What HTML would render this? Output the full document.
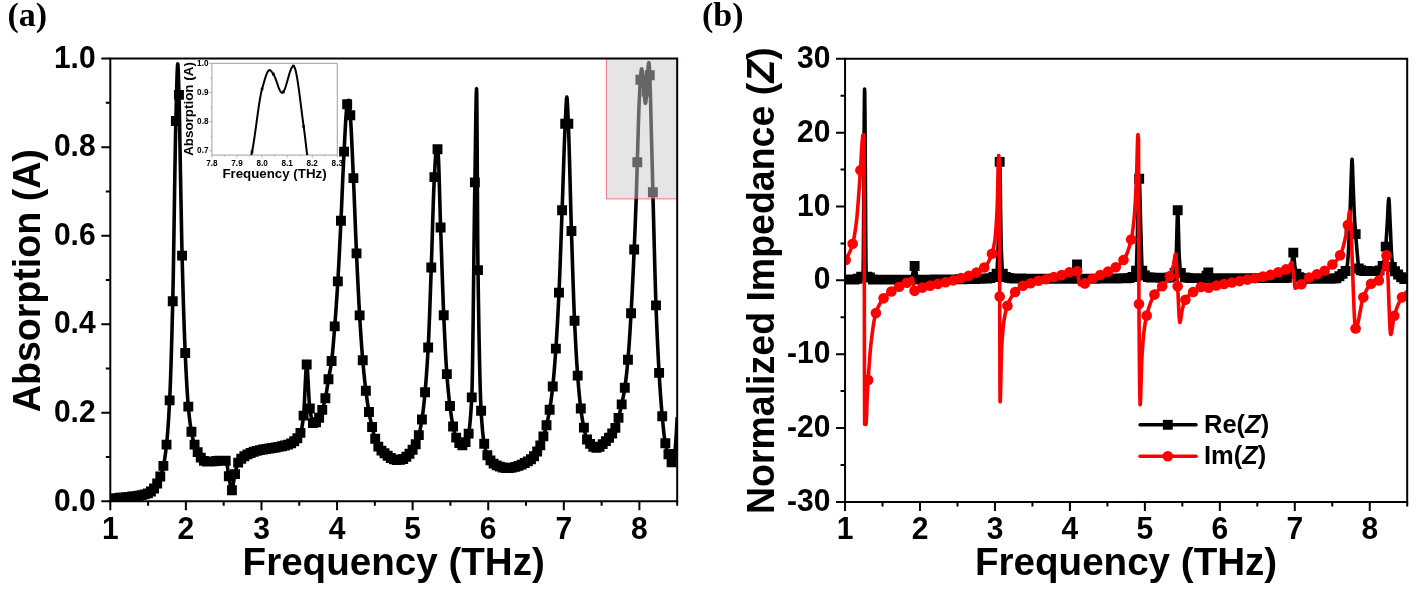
<!DOCTYPE html>
<html lang="en">
<head>
<meta charset="utf-8">
<title>Absorption and normalized impedance</title>
<style>html,body{margin:0;padding:0;background:#fff}body{width:1416px;height:591px;overflow:hidden}svg{display:block}</style>
</head>
<body>
<svg width="1416" height="591" viewBox="0 0 1416 591">
<rect width="1416" height="591" fill="#fff"/>
<defs><clipPath id="clipA"><rect x="110.3" y="58.6" width="566.9" height="442.7"/></clipPath><clipPath id="clipB"><rect x="845.05" y="58.8" width="562.2" height="443.1"/></clipPath></defs>
<g id="panel-a">
<g clip-path="url(#clipA)">
<path d="M110.30 498.64L110.54 498.62L110.77 498.60L111.01 498.58L111.25 498.56L111.48 498.54L111.72 498.52L111.95 498.50L112.19 498.48L112.43 498.46L112.66 498.44L112.90 498.42L113.14 498.39L113.37 498.37L113.61 498.35L113.84 498.33L114.08 498.31L114.32 498.29L114.55 498.27L114.79 498.25L115.03 498.23L115.26 498.21L115.50 498.19L115.73 498.17L115.97 498.15L116.21 498.12L116.44 498.10L116.68 498.08L116.92 498.06L117.15 498.04L117.39 498.02L117.63 498.00L117.86 497.98L117.86 497.98L118.10 497.96L118.33 497.94L118.57 497.92L118.81 497.90L119.04 497.88L119.28 497.86L119.52 497.84L119.75 497.82L119.99 497.80L120.22 497.78L120.46 497.76L120.70 497.74L120.93 497.72L121.17 497.70L121.41 497.68L121.64 497.66L121.88 497.64L122.12 497.62L122.35 497.60L122.59 497.58L122.82 497.56L123.06 497.54L123.30 497.52L123.53 497.49L123.77 497.47L124.01 497.45L124.24 497.43L124.48 497.41L124.71 497.38L124.95 497.36L125.19 497.34L125.42 497.32L125.42 497.32L125.66 497.29L125.90 497.27L126.13 497.24L126.37 497.22L126.60 497.19L126.84 497.17L127.08 497.14L127.31 497.12L127.55 497.09L127.79 497.06L128.02 497.04L128.26 497.01L128.50 496.98L128.73 496.96L128.97 496.93L129.20 496.90L129.44 496.87L129.68 496.84L129.91 496.82L130.15 496.79L130.39 496.76L130.62 496.73L130.86 496.70L131.09 496.67L131.33 496.64L131.57 496.61L131.80 496.58L132.04 496.55L132.28 496.52L132.51 496.49L132.75 496.46L132.98 496.43L132.99 496.43L133.22 496.40L133.46 496.37L133.69 496.34L133.93 496.31L134.17 496.28L134.40 496.25L134.64 496.22L134.88 496.19L135.11 496.15L135.35 496.12L135.58 496.09L135.82 496.06L136.06 496.03L136.29 496.00L136.53 495.97L136.77 495.93L137.00 495.90L137.24 495.87L137.47 495.83L137.71 495.80L137.95 495.76L138.18 495.73L138.42 495.69L138.66 495.65L138.89 495.61L139.13 495.57L139.37 495.53L139.60 495.49L139.84 495.45L140.07 495.41L140.31 495.37L140.53 495.32L140.55 495.32L140.78 495.28L141.02 495.23L141.26 495.18L141.49 495.13L141.73 495.08L141.96 495.03L142.20 494.98L142.44 494.93L142.67 494.88L142.91 494.82L143.15 494.77L143.38 494.71L143.62 494.65L143.86 494.59L144.09 494.53L144.33 494.47L144.56 494.40L144.80 494.34L145.04 494.27L145.27 494.20L145.51 494.13L145.75 494.06L145.98 493.98L146.22 493.91L146.45 493.83L146.69 493.75L146.93 493.66L147.16 493.58L147.40 493.49L147.64 493.41L147.83 493.33L147.87 493.31L148.11 493.22L148.34 493.11L148.58 493.00L148.82 492.89L149.05 492.76L149.29 492.63L149.53 492.49L149.76 492.35L150.00 492.20L150.24 492.05L150.47 491.89L150.71 491.73L150.94 491.56L150.94 491.56L151.18 491.38L151.42 491.20L151.65 491.00L151.89 490.79L152.13 490.57L152.36 490.34L152.60 490.11L152.83 489.86L153.07 489.61L153.31 489.35L153.54 489.08L153.78 488.80L154.02 488.52L154.06 488.46L154.25 488.23L154.49 487.92L154.73 487.60L154.96 487.26L155.20 486.92L155.43 486.56L155.67 486.18L155.91 485.80L156.14 485.41L156.38 485.00L156.62 484.59L156.85 484.16L157.09 483.73L157.16 483.59L157.32 483.29L157.56 482.83L157.80 482.37L158.03 481.88L158.27 481.39L158.51 480.87L158.74 480.35L158.98 479.80L159.21 479.25L159.45 478.67L159.69 478.08L159.92 477.47L160.16 476.85L160.28 476.51L160.40 476.20L160.63 475.55L160.87 474.88L161.11 474.20L161.34 473.50L161.58 472.77L161.81 472.01L162.05 471.22L162.29 470.39L162.52 469.53L162.76 468.62L163.00 467.67L163.23 466.66L163.41 465.88L163.47 465.60L163.70 464.47L163.94 463.26L164.18 461.96L164.41 460.59L164.65 459.14L164.89 457.60L165.12 455.98L165.36 454.28L165.60 452.49L165.83 450.61L166.07 448.65L166.30 446.59L166.52 444.63L166.54 444.45L166.78 442.18L167.01 439.74L167.25 437.12L167.49 434.34L167.72 431.37L167.96 428.22L168.19 424.89L168.43 421.37L168.67 417.66L168.90 413.75L169.14 409.64L169.38 405.33L169.61 400.81L169.63 400.36L169.85 395.94L170.08 390.56L170.32 384.68L170.56 378.33L170.79 371.53L171.03 364.30L171.27 356.67L171.50 348.67L171.74 340.31L171.98 331.63L172.21 322.64L172.45 313.37L172.68 303.85L172.75 301.20L172.92 293.67L173.16 281.85L173.39 268.64L173.63 254.33L173.87 239.22L174.10 223.61L174.34 207.79L174.57 192.07L174.81 176.74L175.05 162.10L175.28 148.45L175.52 136.08L175.76 125.30L175.86 121.02L175.99 115.99L176.23 106.50L176.47 96.98L176.70 87.88L176.94 79.64L177.17 72.70L177.41 67.50L177.65 64.49L177.80 63.91L177.88 64.18L178.12 67.36L178.36 73.36L178.59 81.12L178.83 89.62L178.98 94.90L179.06 98.08L179.30 108.21L179.54 120.11L179.77 133.22L180.01 146.95L180.25 160.72L180.48 173.96L180.59 179.90L180.72 186.36L180.95 199.03L181.19 211.82L181.43 224.40L181.66 236.42L181.90 247.52L182.09 255.60L182.14 257.39L182.37 266.58L182.61 275.49L182.85 284.11L183.08 292.42L183.32 300.44L183.55 308.15L183.79 315.54L184.03 322.62L184.26 329.37L184.50 335.80L184.74 341.89L184.97 347.65L185.21 353.00L185.21 353.06L185.44 358.23L185.68 363.26L185.92 368.13L186.15 372.84L186.39 377.37L186.63 381.71L186.86 385.86L187.10 389.81L187.34 393.54L187.57 397.04L187.81 400.32L188.04 403.35L188.28 406.13L188.32 406.56L188.52 408.69L188.75 411.15L188.99 413.49L189.23 415.72L189.46 417.85L189.70 419.88L189.93 421.80L190.17 423.63L190.41 425.35L190.64 426.99L190.88 428.53L191.12 429.98L191.35 431.35L191.43 431.80L191.59 432.63L191.82 433.86L192.06 435.03L192.30 436.16L192.53 437.23L192.77 438.26L193.01 439.24L193.24 440.18L193.48 441.07L193.72 441.93L193.95 442.74L194.19 443.52L194.42 444.26L194.55 444.63L194.66 444.97L194.90 445.65L195.13 446.31L195.37 446.94L195.61 447.55L195.84 448.14L196.08 448.71L196.31 449.27L196.55 449.80L196.79 450.32L197.02 450.83L197.26 451.33L197.50 451.81L197.73 452.28L197.97 452.75L198.21 453.21L198.44 453.66L198.58 453.93L198.68 454.11L198.91 454.56L199.15 455.00L199.39 455.44L199.62 455.86L199.86 456.28L200.10 456.67L200.33 457.03L200.57 457.37L200.80 457.68L201.00 457.92L201.04 457.96L201.28 458.22L201.51 458.48L201.75 458.74L201.99 459.01L202.22 459.26L202.46 459.52L202.69 459.76L202.93 460.00L203.17 460.23L203.40 460.45L203.64 460.65L203.88 460.84L204.11 461.02L204.35 461.18L204.59 461.32L204.82 461.43L205.06 461.53L205.29 461.61L205.53 461.65L205.77 461.68L205.84 461.68L206.00 461.68L206.24 461.68L206.48 461.68L206.71 461.67L206.95 461.67L207.18 461.66L207.42 461.66L207.66 461.65L207.89 461.65L208.13 461.64L208.37 461.63L208.60 461.63L208.84 461.62L209.07 461.61L209.31 461.60L209.55 461.59L209.78 461.58L210.02 461.57L210.26 461.56L210.49 461.55L210.73 461.54L210.97 461.53L211.20 461.51L211.44 461.50L211.67 461.49L211.91 461.48L212.15 461.47L212.34 461.46L212.38 461.45L212.62 461.44L212.86 461.42L213.09 461.41L213.33 461.38L213.56 461.36L213.80 461.34L214.04 461.31L214.27 461.28L214.51 461.25L214.75 461.22L214.98 461.19L215.22 461.16L215.46 461.12L215.69 461.09L215.93 461.06L216.16 461.03L216.40 461.00L216.64 460.96L216.87 460.93L217.11 460.90L217.35 460.88L217.58 460.85L217.82 460.82L218.05 460.80L218.29 460.78L218.53 460.76L218.76 460.74L219.00 460.73L219.24 460.72L219.47 460.71L219.71 460.71L219.90 460.70L219.94 460.70L220.18 460.70L220.42 460.70L220.65 460.70L220.89 460.70L221.13 460.70L221.36 460.70L221.60 460.70L221.84 460.70L222.07 460.70L222.31 460.70L222.54 460.70L222.78 460.70L223.02 460.70L223.25 460.70L223.49 460.70L223.73 460.70L223.96 460.70L224.20 460.70L224.43 460.70L224.67 460.70L224.91 460.70L225.14 460.70L225.38 460.70L225.62 460.70L225.85 460.70L225.95 460.70L226.09 460.78L226.33 461.19L226.56 461.93L226.80 462.95L227.03 464.21L227.27 465.65L227.51 467.22L227.74 468.89L227.98 470.60L228.22 472.30L228.45 473.96L228.69 475.51L228.92 476.92L229.05 477.57L229.16 478.19L229.40 479.56L229.63 481.03L229.87 482.56L230.11 484.10L230.34 485.58L230.58 486.96L230.81 488.18L231.05 489.20L231.29 489.96L231.52 490.40L231.69 490.50L231.76 490.48L232.00 490.16L232.23 489.50L232.47 488.54L232.71 487.36L232.94 486.00L233.18 484.52L233.41 482.99L233.65 481.46L233.89 479.99L234.12 478.64L234.34 477.57L234.36 477.46L234.60 476.34L234.83 475.19L235.07 474.00L235.30 472.81L235.54 471.62L235.78 470.46L236.01 469.33L236.25 468.25L236.49 467.23L236.72 466.30L236.96 465.46L237.20 464.73L237.43 464.12L237.44 464.11L237.67 463.60L237.90 463.12L238.14 462.67L238.38 462.25L238.61 461.86L238.85 461.50L239.09 461.15L239.32 460.83L239.56 460.53L239.79 460.25L240.03 459.98L240.27 459.73L240.31 459.69L240.50 459.48L240.74 459.24L240.98 459.01L241.21 458.79L241.45 458.57L241.68 458.35L241.92 458.14L242.16 457.94L242.39 457.74L242.63 457.55L242.87 457.36L243.10 457.17L243.34 456.99L243.58 456.82L243.81 456.65L244.05 456.48L244.28 456.32L244.52 456.16L244.76 456.01L244.99 455.85L245.23 455.70L245.47 455.56L245.70 455.42L245.94 455.28L246.17 455.14L246.41 455.00L246.65 454.87L246.88 454.74L247.12 454.61L247.36 454.48L247.56 454.37L247.59 454.36L247.83 454.23L248.07 454.11L248.30 453.99L248.54 453.88L248.77 453.76L249.01 453.65L249.25 453.54L249.48 453.43L249.72 453.32L249.96 453.21L250.19 453.11L250.43 453.01L250.66 452.91L250.90 452.81L251.14 452.71L251.37 452.62L251.61 452.53L251.85 452.43L252.08 452.35L252.32 452.26L252.55 452.17L252.79 452.09L253.03 452.01L253.26 451.93L253.50 451.85L253.74 451.77L253.91 451.72L253.97 451.70L254.21 451.63L254.45 451.55L254.68 451.48L254.92 451.41L255.15 451.34L255.39 451.27L255.63 451.21L255.86 451.14L256.10 451.08L256.34 451.01L256.57 450.95L256.81 450.89L257.04 450.83L257.28 450.77L257.52 450.71L257.75 450.65L257.99 450.59L258.23 450.54L258.46 450.48L258.70 450.42L258.94 450.37L259.17 450.31L259.41 450.26L259.64 450.21L259.88 450.16L260.12 450.10L260.35 450.05L260.59 450.00L260.83 449.95L261.06 449.90L261.30 449.85L261.53 449.81L261.77 449.76L261.92 449.73L262.01 449.71L262.24 449.66L262.48 449.61L262.72 449.57L262.95 449.52L263.19 449.48L263.42 449.44L263.66 449.39L263.90 449.35L264.13 449.31L264.37 449.27L264.61 449.23L264.84 449.19L265.08 449.15L265.32 449.11L265.55 449.07L265.79 449.03L266.02 448.99L266.26 448.96L266.50 448.92L266.73 448.88L266.97 448.84L267.21 448.81L267.44 448.77L267.68 448.74L267.91 448.70L268.15 448.66L268.39 448.63L268.62 448.59L268.86 448.56L269.10 448.52L269.33 448.49L269.57 448.45L269.81 448.42L270.04 448.38L270.28 448.35L270.51 448.31L270.75 448.28L270.99 448.24L271.22 448.21L271.46 448.17L271.70 448.13L271.93 448.10L272.17 448.06L272.40 448.02L272.64 447.99L272.88 447.95L273.11 447.91L273.35 447.87L273.59 447.83L273.82 447.79L274.06 447.75L274.29 447.71L274.53 447.67L274.77 447.63L275.00 447.59L275.24 447.55L275.48 447.50L275.71 447.46L275.95 447.41L276.19 447.37L276.42 447.32L276.59 447.29L276.66 447.28L276.89 447.23L277.13 447.18L277.37 447.14L277.60 447.09L277.84 447.05L278.08 447.00L278.31 446.96L278.55 446.91L278.78 446.87L279.02 446.82L279.26 446.78L279.49 446.73L279.73 446.69L279.97 446.64L280.20 446.59L280.44 446.55L280.68 446.50L280.91 446.45L281.15 446.41L281.38 446.36L281.62 446.31L281.86 446.26L282.09 446.21L282.33 446.16L282.57 446.11L282.80 446.06L283.04 446.01L283.27 445.96L283.51 445.90L283.75 445.85L283.98 445.79L284.22 445.73L284.46 445.68L284.69 445.62L284.93 445.56L285.16 445.50L285.40 445.43L285.64 445.37L285.87 445.31L286.11 445.24L286.35 445.17L286.58 445.10L286.82 445.03L287.06 444.96L287.29 444.88L287.53 444.81L287.76 444.73L288.00 444.65L288.24 444.57L288.47 444.49L288.71 444.41L288.95 444.32L289.18 444.23L289.29 444.19L289.42 444.14L289.65 444.05L289.89 443.95L290.13 443.84L290.36 443.73L290.60 443.62L290.84 443.50L291.07 443.37L291.31 443.24L291.55 443.11L291.78 442.97L292.02 442.83L292.25 442.68L292.49 442.52L292.73 442.36L292.96 442.20L293.20 442.03L293.44 441.85L293.67 441.67L293.91 441.49L294.14 441.30L294.38 441.11L294.62 440.91L294.85 440.70L295.09 440.49L295.33 440.27L295.56 440.05L295.80 439.83L296.03 439.60L296.27 439.36L296.51 439.12L296.74 438.87L296.98 438.62L297.15 438.44L297.22 438.36L297.45 438.09L297.69 437.81L297.93 437.52L298.16 437.20L298.40 436.87L298.63 436.51L298.87 436.14L299.11 435.73L299.34 435.30L299.58 434.85L299.82 434.36L300.05 433.83L300.29 433.28L300.52 432.68L300.76 432.05L300.85 431.80L301.00 431.36L301.23 430.53L301.47 429.56L301.71 428.46L301.94 427.23L302.18 425.88L302.42 424.40L302.65 422.82L302.89 421.13L303.12 419.33L303.36 417.44L303.50 416.30L303.60 415.37L303.83 412.48L304.07 408.78L304.31 404.44L304.54 399.63L304.78 394.54L305.01 389.34L305.25 384.20L305.49 379.31L305.72 374.83L305.96 370.94L306.20 367.82L306.43 365.64L306.67 364.58L306.75 364.51L306.90 364.80L307.14 366.26L307.38 368.75L307.61 372.10L307.85 376.10L308.09 380.55L308.32 385.27L308.56 390.05L308.80 394.71L309.03 399.04L309.27 402.85L309.50 405.94L309.74 408.13L309.77 408.33L309.98 409.65L310.21 411.13L310.45 412.57L310.69 413.96L310.92 415.30L311.16 416.57L311.39 417.77L311.63 418.88L311.87 419.91L312.10 420.83L312.34 421.65L312.58 422.35L312.81 422.92L313.05 423.36L313.28 423.66L313.52 423.81L313.63 423.83L313.76 423.82L313.99 423.78L314.23 423.71L314.47 423.60L314.70 423.47L314.94 423.30L315.18 423.11L315.41 422.90L315.65 422.66L315.88 422.41L316.12 422.14L316.36 421.85L316.59 421.55L316.83 421.24L317.07 420.92L317.30 420.60L317.54 420.27L317.77 419.94L318.01 419.61L318.16 419.40L318.25 419.28L318.48 418.92L318.72 418.53L318.96 418.11L319.19 417.66L319.43 417.18L319.67 416.67L319.90 416.14L320.14 415.58L320.37 415.01L320.61 414.41L320.85 413.80L321.08 413.17L321.32 412.52L321.56 411.86L321.79 411.19L322.03 410.51L322.26 409.82L322.47 409.22L322.50 409.12L322.74 408.41L322.97 407.66L323.21 406.88L323.45 406.08L323.68 405.24L323.92 404.37L324.15 403.46L324.39 402.53L324.63 401.56L324.86 400.55L325.10 399.51L325.34 398.44L325.49 397.71L325.57 397.32L325.81 396.11L326.05 394.80L326.28 393.41L326.52 391.95L326.75 390.44L326.99 388.89L327.23 387.33L327.46 385.75L327.70 384.19L327.94 382.66L328.17 381.16L328.29 380.44L328.41 379.73L328.64 378.35L328.88 377.02L329.12 375.73L329.35 374.46L329.59 373.20L329.83 371.94L330.06 370.66L330.30 369.35L330.54 368.00L330.77 366.59L331.01 365.12L331.24 363.57L331.48 361.92L331.72 360.17L331.84 359.19L331.95 358.29L332.19 356.21L332.43 353.95L332.66 351.51L332.90 348.94L333.13 346.23L333.37 343.42L333.61 340.52L333.84 337.56L334.08 334.56L334.32 331.53L334.55 328.50L334.71 326.43L334.79 325.48L335.02 322.43L335.26 319.33L335.50 316.18L335.73 312.96L335.97 309.69L336.21 306.34L336.44 302.94L336.68 299.45L336.92 295.90L337.15 292.27L337.39 288.55L337.62 284.75L337.84 281.28L337.86 280.86L338.10 276.85L338.33 272.68L338.57 268.39L338.81 263.97L339.04 259.45L339.28 254.83L339.51 250.13L339.75 245.36L339.99 240.54L340.22 235.68L340.46 230.80L340.70 225.89L340.93 220.99L340.95 220.63L341.17 215.98L341.41 210.77L341.64 205.40L341.88 199.91L342.11 194.34L342.35 188.75L342.59 183.17L342.82 177.66L343.06 172.26L343.30 167.01L343.53 161.96L343.77 157.16L344.00 152.65L344.06 151.57L344.24 148.32L344.48 143.87L344.71 139.33L344.95 134.78L345.19 130.29L345.42 125.93L345.66 121.76L345.89 117.86L346.13 114.28L346.37 111.11L346.60 108.40L346.84 106.23L347.08 104.67L347.18 104.20L347.31 103.67L347.55 102.78L347.79 101.98L348.02 101.29L348.26 100.74L348.49 100.38L348.73 100.22L348.77 100.21L348.97 100.61L349.20 102.03L349.44 104.26L349.68 107.06L349.91 110.18L350.15 113.38L350.29 115.27L350.38 116.48L350.62 119.90L350.86 123.72L351.09 127.90L351.33 132.38L351.57 137.14L351.80 142.11L352.04 147.25L352.28 152.53L352.51 157.88L352.75 163.28L352.98 168.67L353.22 174.00L353.41 178.13L353.46 179.24L353.69 184.60L353.93 190.15L354.17 195.86L354.40 201.69L354.64 207.61L354.87 213.57L355.11 219.55L355.35 225.50L355.58 231.38L355.82 237.17L356.06 242.82L356.29 248.30L356.52 253.39L356.53 253.57L356.76 258.71L357.00 263.82L357.24 268.88L357.47 273.89L357.71 278.84L357.95 283.71L358.18 288.49L358.42 293.17L358.66 297.75L358.89 302.22L359.13 306.55L359.36 310.75L359.60 314.80L359.63 315.37L359.84 318.72L360.07 322.57L360.31 326.35L360.55 330.06L360.78 333.68L361.02 337.21L361.25 340.66L361.49 344.02L361.73 347.28L361.96 350.45L362.20 353.51L362.44 356.47L362.67 359.32L362.76 360.30L362.91 362.06L363.15 364.73L363.38 367.33L363.62 369.86L363.85 372.33L364.09 374.72L364.33 377.05L364.56 379.32L364.80 381.52L365.04 383.66L365.27 385.74L365.51 387.76L365.74 389.72L365.86 390.62L365.98 391.63L366.22 393.49L366.45 395.31L366.69 397.08L366.93 398.81L367.16 400.49L367.40 402.14L367.63 403.74L367.87 405.29L368.11 406.80L368.34 408.27L368.58 409.70L368.82 411.09L368.95 411.87L369.05 412.43L369.29 413.73L369.53 414.99L369.76 416.22L370.00 417.41L370.23 418.57L370.47 419.71L370.71 420.82L370.94 421.91L371.18 422.98L371.42 424.03L371.65 425.07L371.89 426.10L371.98 426.48L372.12 427.12L372.36 428.14L372.60 429.16L372.83 430.16L373.07 431.16L373.31 432.13L373.54 433.09L373.78 434.01L374.02 434.90L374.25 435.76L374.49 436.57L374.72 437.34L374.85 437.73L374.96 438.06L375.20 438.77L375.43 439.47L375.67 440.15L375.91 440.83L376.14 441.49L376.38 442.13L376.61 442.76L376.85 443.37L377.09 443.96L377.32 444.52L377.56 445.06L377.80 445.57L378.03 446.06L378.27 446.52L378.50 446.94L378.74 447.33L378.98 447.69L379.01 447.73L379.21 448.02L379.45 448.34L379.69 448.65L379.92 448.94L380.16 449.23L380.40 449.50L380.63 449.77L380.87 450.02L381.10 450.27L381.34 450.51L381.58 450.74L381.81 450.97L382.05 451.19L382.29 451.40L382.52 451.61L382.76 451.81L382.99 452.01L383.23 452.21L383.47 452.40L383.70 452.59L383.94 452.78L384.18 452.96L384.41 453.15L384.65 453.33L384.89 453.52L385.12 453.70L385.36 453.89L385.59 454.08L385.83 454.27L385.96 454.37L386.07 454.46L386.30 454.66L386.54 454.85L386.78 455.05L387.01 455.25L387.25 455.45L387.48 455.64L387.72 455.84L387.96 456.03L388.19 456.22L388.43 456.41L388.67 456.60L388.90 456.78L389.14 456.96L389.37 457.13L389.61 457.30L389.85 457.46L390.08 457.61L390.32 457.76L390.56 457.90L390.79 458.03L391.03 458.15L391.27 458.26L391.48 458.36L391.50 458.37L391.74 458.47L391.97 458.57L392.21 458.67L392.45 458.77L392.68 458.86L392.92 458.96L393.16 459.06L393.39 459.15L393.63 459.24L393.86 459.33L394.10 459.42L394.34 459.50L394.57 459.58L394.81 459.66L395.05 459.73L395.28 459.80L395.52 459.86L395.76 459.92L395.99 459.97L396.23 460.01L396.46 460.05L396.70 460.08L396.94 460.10L397.17 460.12L397.41 460.13L397.53 460.13L397.65 460.13L397.88 460.12L398.12 460.11L398.35 460.10L398.59 460.08L398.83 460.05L399.06 460.02L399.30 459.99L399.54 459.95L399.77 459.91L400.01 459.86L400.24 459.82L400.48 459.77L400.72 459.71L400.95 459.66L401.19 459.60L401.43 459.54L401.66 459.48L401.90 459.41L402.14 459.35L402.37 459.28L402.51 459.24L402.61 459.22L402.84 459.14L403.08 459.05L403.32 458.95L403.55 458.83L403.79 458.71L404.03 458.57L404.26 458.43L404.50 458.28L404.73 458.11L404.97 457.94L405.21 457.76L405.44 457.58L405.68 457.39L405.92 457.19L406.15 456.98L406.39 456.77L406.62 456.56L406.86 456.34L407.10 456.11L407.33 455.89L407.57 455.66L407.81 455.43L408.04 455.19L408.28 454.96L408.52 454.72L408.75 454.49L408.86 454.37L408.99 454.25L409.22 454.01L409.46 453.76L409.70 453.50L409.93 453.24L410.17 452.98L410.41 452.70L410.64 452.42L410.88 452.13L411.11 451.84L411.35 451.53L411.59 451.22L411.82 450.90L412.06 450.57L412.30 450.24L412.53 449.89L412.77 449.54L413.01 449.17L413.24 448.80L413.48 448.42L413.71 448.02L413.95 447.62L414.19 447.21L414.42 446.79L414.66 446.36L414.90 445.91L415.13 445.46L415.21 445.30L415.37 444.99L415.60 444.49L415.84 443.97L416.08 443.42L416.31 442.84L416.55 442.23L416.79 441.60L417.02 440.94L417.26 440.26L417.49 439.55L417.73 438.81L417.97 438.05L418.20 437.26L418.44 436.45L418.68 435.61L418.91 434.75L418.99 434.45L419.15 433.85L419.39 432.91L419.62 431.91L419.86 430.85L420.09 429.75L420.33 428.59L420.57 427.38L420.80 426.12L421.04 424.81L421.28 423.45L421.51 422.05L421.75 420.59L421.98 419.08L422.22 417.53L422.32 416.88L422.46 415.92L422.69 414.21L422.93 412.39L423.17 410.49L423.40 408.48L423.64 406.39L423.88 404.21L424.11 401.94L424.35 399.58L424.58 397.15L424.82 394.64L425.06 392.06L425.29 389.40L425.34 388.85L425.53 386.67L425.77 383.82L426.00 380.86L426.24 377.78L426.47 374.58L426.71 371.24L426.95 367.76L427.18 364.14L427.42 360.37L427.66 356.45L427.89 352.36L428.13 348.11L428.36 343.70L428.36 343.69L428.60 338.95L428.84 333.75L429.07 328.17L429.31 322.25L429.55 316.05L429.78 309.63L430.02 303.04L430.26 296.35L430.49 289.60L430.73 282.85L430.96 276.15L431.16 270.65L431.20 269.56L431.44 262.70L431.67 255.43L431.91 247.85L432.15 240.08L432.38 232.23L432.62 224.39L432.85 216.69L433.09 209.22L433.33 202.10L433.56 195.43L433.80 189.33L434.04 183.89L434.26 179.46L434.27 179.24L434.51 174.88L434.75 170.47L434.98 166.12L435.22 161.95L435.45 158.07L435.69 154.60L435.93 151.66L436.16 149.36L436.40 147.82L436.64 147.16L436.68 147.14L436.87 147.27L437.11 147.75L437.34 148.53L437.58 149.56L437.82 150.76L437.96 151.57L438.05 152.21L438.29 155.14L438.53 159.67L438.76 165.52L439.00 172.44L439.23 180.16L439.47 188.41L439.71 196.93L439.94 205.46L440.18 213.74L440.42 221.50L440.61 227.27L440.65 228.49L440.89 235.28L441.13 242.19L441.36 249.18L441.60 256.22L441.83 263.26L442.07 270.26L442.31 277.19L442.54 284.01L442.78 290.66L443.02 297.13L443.25 303.36L443.49 309.31L443.72 314.95L443.86 318.02L443.96 320.27L444.20 325.47L444.43 330.57L444.67 335.58L444.91 340.47L445.14 345.22L445.38 349.82L445.62 354.26L445.85 358.51L446.09 362.57L446.32 366.42L446.56 370.04L446.80 373.41L446.96 375.57L447.03 376.53L447.27 379.49L447.51 382.32L447.74 385.04L447.98 387.65L448.21 390.15L448.45 392.56L448.69 394.87L448.92 397.09L449.16 399.23L449.40 401.30L449.63 403.30L449.87 405.24L450.10 407.12L450.28 408.51L450.34 408.94L450.58 410.73L450.81 412.49L451.05 414.20L451.29 415.86L451.52 417.47L451.76 419.03L452.00 420.53L452.23 421.97L452.47 423.34L452.70 424.63L452.94 425.85L453.18 426.99L453.31 427.59L453.41 428.06L453.65 429.09L453.89 430.09L454.12 431.06L454.36 432.00L454.59 432.89L454.83 433.75L455.07 434.55L455.30 435.30L455.54 436.00L455.78 436.64L456.01 437.21L456.25 437.71L456.26 437.73L456.49 438.18L456.72 438.64L456.96 439.10L457.19 439.55L457.43 439.99L457.67 440.43L457.90 440.86L458.14 441.27L458.38 441.67L458.61 442.06L458.85 442.43L459.08 442.79L459.32 443.13L459.56 443.45L459.79 443.75L460.03 444.03L460.27 444.28L460.50 444.51L460.74 444.71L460.97 444.88L461.21 445.03L461.45 445.15L461.68 445.23L461.92 445.28L462.15 445.30L462.16 445.30L462.39 445.28L462.63 445.23L462.87 445.15L463.10 445.03L463.34 444.88L463.57 444.70L463.81 444.49L464.05 444.25L464.28 443.98L464.52 443.68L464.76 443.36L464.99 443.00L465.23 442.62L465.46 442.21L465.70 441.78L465.94 441.32L466.17 440.83L466.41 440.33L466.65 439.79L466.88 439.24L467.12 438.66L467.36 438.06L467.59 437.44L467.83 436.80L467.97 436.40L468.06 436.13L468.30 435.28L468.54 434.23L468.77 432.97L469.01 431.50L469.25 429.80L469.48 427.89L469.72 425.76L469.95 423.40L470.19 420.81L470.43 417.99L470.66 414.93L470.90 411.63L471.14 408.09L471.37 404.30L471.61 400.26L471.75 397.71L471.84 395.68L472.08 388.04L472.32 377.13L472.55 363.44L472.79 347.45L473.03 329.65L473.26 310.53L473.50 290.57L473.74 270.25L473.97 250.07L474.21 230.50L474.44 212.04L474.68 195.17L474.85 184.33L474.92 180.17L475.15 164.11L475.39 146.89L475.63 129.80L475.86 114.14L476.10 101.21L476.33 92.31L476.57 88.72L476.59 88.70L476.81 98.91L477.04 127.82L477.28 167.42L477.52 209.59L477.75 246.23L477.95 266.67L477.99 269.53L478.23 285.98L478.46 301.54L478.70 316.19L478.93 329.92L479.17 342.72L479.41 354.57L479.64 365.46L479.88 375.37L480.12 384.30L480.35 392.23L480.59 399.14L480.82 405.03L481.06 409.88L481.12 410.99L481.30 413.88L481.53 417.59L481.77 421.04L482.01 424.24L482.24 427.20L482.48 429.92L482.71 432.42L482.95 434.71L483.19 436.80L483.42 438.68L483.66 440.39L483.90 441.91L484.13 443.27L484.22 443.75L484.37 444.49L484.61 445.65L484.84 446.75L485.08 447.80L485.31 448.79L485.55 449.73L485.79 450.61L486.02 451.45L486.26 452.24L486.50 452.98L486.73 453.67L486.97 454.32L487.20 454.92L487.44 455.48L487.68 455.99L487.91 456.46L488.15 456.89L488.23 457.03L488.39 457.29L488.62 457.68L488.86 458.06L489.10 458.43L489.33 458.79L489.57 459.14L489.80 459.48L490.04 459.81L490.28 460.13L490.51 460.44L490.75 460.74L490.99 461.03L491.22 461.32L491.46 461.59L491.69 461.86L491.93 462.11L492.17 462.36L492.40 462.59L492.64 462.82L492.88 463.04L493.11 463.25L493.35 463.45L493.58 463.64L493.82 463.83L494.06 464.00L494.29 464.16L494.53 464.32L494.77 464.47L495.00 464.60L495.24 464.73L495.48 464.85L495.71 464.96L495.79 465.00L495.95 465.07L496.18 465.17L496.42 465.28L496.66 465.38L496.89 465.48L497.13 465.58L497.37 465.67L497.60 465.77L497.84 465.87L498.07 465.96L498.31 466.06L498.55 466.15L498.78 466.24L499.02 466.33L499.26 466.41L499.49 466.50L499.73 466.59L499.96 466.67L500.20 466.75L500.44 466.83L500.67 466.91L500.91 466.98L501.15 467.06L501.38 467.13L501.62 467.20L501.86 467.27L502.09 467.33L502.33 467.40L502.56 467.46L502.80 467.52L503.04 467.58L503.27 467.63L503.51 467.68L503.75 467.73L503.98 467.78L504.22 467.83L504.45 467.87L504.69 467.91L504.93 467.95L505.16 467.98L505.40 468.02L505.64 468.05L505.87 468.07L506.11 468.10L506.35 468.12L506.58 468.14L506.82 468.15L507.05 468.17L507.29 468.18L507.53 468.18L507.76 468.19L507.88 468.19L508.00 468.19L508.24 468.18L508.47 468.17L508.71 468.16L508.94 468.15L509.18 468.13L509.42 468.11L509.65 468.09L509.89 468.06L510.13 468.03L510.36 468.00L510.60 467.97L510.83 467.93L511.07 467.89L511.31 467.85L511.54 467.80L511.78 467.75L512.02 467.70L512.25 467.65L512.49 467.60L512.73 467.55L512.96 467.49L513.20 467.43L513.43 467.37L513.67 467.31L513.91 467.24L514.14 467.18L514.38 467.11L514.62 467.05L514.85 466.98L515.09 466.91L515.32 466.84L515.56 466.77L515.80 466.70L516.03 466.63L516.27 466.56L516.51 466.49L516.74 466.41L516.98 466.34L517.22 466.27L517.45 466.19L517.69 466.12L517.92 466.05L518.16 465.98L518.40 465.90L518.46 465.88L518.63 465.83L518.87 465.76L519.11 465.68L519.34 465.59L519.58 465.51L519.81 465.42L520.05 465.33L520.29 465.23L520.52 465.13L520.76 465.03L521.00 464.93L521.23 464.83L521.47 464.72L521.70 464.61L521.94 464.50L522.18 464.38L522.41 464.27L522.65 464.15L522.89 464.03L523.12 463.91L523.36 463.79L523.60 463.66L523.83 463.54L524.07 463.41L524.30 463.29L524.54 463.16L524.78 463.03L525.01 462.90L525.25 462.77L525.49 462.64L525.72 462.51L525.96 462.38L526.02 462.34L526.19 462.25L526.43 462.12L526.67 461.98L526.90 461.85L527.14 461.72L527.38 461.59L527.61 461.45L527.85 461.32L528.09 461.18L528.32 461.04L528.56 460.90L528.79 460.76L529.03 460.61L529.27 460.46L529.50 460.31L529.74 460.15L529.98 459.99L530.21 459.82L530.45 459.65L530.68 459.48L530.92 459.30L531.16 459.12L531.39 458.93L531.63 458.73L531.87 458.53L532.10 458.32L532.34 458.10L532.45 458.00L532.57 457.88L532.81 457.65L533.05 457.40L533.28 457.15L533.52 456.88L533.76 456.60L533.99 456.31L534.23 456.01L534.47 455.70L534.70 455.38L534.94 455.05L535.17 454.72L535.41 454.37L535.65 454.01L535.88 453.64L536.12 453.27L536.36 452.88L536.59 452.49L536.83 452.08L537.06 451.67L537.30 451.26L537.54 450.83L537.77 450.40L538.01 449.95L538.25 449.50L538.48 449.05L538.72 448.58L538.96 448.11L539.19 447.64L539.43 447.15L539.66 446.66L539.90 446.17L540.14 445.66L540.31 445.30L540.37 445.16L540.61 444.62L540.85 444.04L541.08 443.43L541.32 442.80L541.55 442.13L541.79 441.45L542.03 440.74L542.26 440.02L542.50 439.28L542.74 438.54L542.97 437.79L543.21 437.03L543.41 436.40L543.44 436.28L543.68 435.51L543.92 434.74L544.15 433.96L544.39 433.16L544.63 432.35L544.86 431.53L545.10 430.68L545.34 429.82L545.57 428.94L545.81 428.04L546.04 427.12L546.28 426.17L546.52 425.20L546.53 425.16L546.75 424.21L546.99 423.20L547.23 422.16L547.46 421.10L547.70 420.01L547.93 418.90L548.17 417.75L548.41 416.57L548.64 415.36L548.88 414.11L549.12 412.81L549.35 411.48L549.59 410.11L549.64 409.79L549.83 408.69L550.06 407.22L550.30 405.70L550.53 404.13L550.77 402.50L551.01 400.82L551.24 399.07L551.48 397.27L551.72 395.41L551.95 393.48L552.19 391.49L552.42 389.43L552.66 387.30L552.76 386.42L552.90 385.09L553.13 382.77L553.37 380.33L553.61 377.78L553.84 375.12L554.08 372.36L554.31 369.50L554.55 366.55L554.79 363.52L555.02 360.39L555.26 357.19L555.50 353.90L555.73 350.55L555.87 348.57L555.97 347.13L556.21 343.58L556.44 339.92L556.68 336.13L556.91 332.21L557.15 328.17L557.39 324.00L557.62 319.72L557.86 315.30L558.10 310.77L558.33 306.11L558.57 301.33L558.80 296.42L558.98 292.61L559.04 291.39L559.28 286.09L559.51 280.50L559.75 274.64L559.99 268.57L560.22 262.30L560.46 255.89L560.70 249.36L560.93 242.75L561.17 236.10L561.40 229.44L561.64 222.81L561.88 216.25L562.10 210.18L562.11 209.79L562.35 203.21L562.59 196.39L562.82 189.38L563.06 182.25L563.29 175.07L563.53 167.92L563.77 160.86L564.00 153.96L564.24 147.28L564.48 140.91L564.71 134.89L564.95 129.31L565.18 124.24L565.21 123.68L565.42 119.30L565.66 114.09L565.89 108.98L566.13 104.35L566.37 100.58L566.60 98.04L566.84 97.11L566.84 97.11L567.08 98.21L567.31 101.14L567.55 105.46L567.78 110.70L568.02 116.39L568.26 122.07L568.33 123.68L568.49 127.68L568.73 134.09L568.97 141.25L569.20 149.04L569.44 157.34L569.67 166.03L569.91 174.97L570.15 184.06L570.38 193.18L570.62 202.19L570.86 210.97L571.09 219.42L571.33 227.40L571.44 230.99L571.57 234.89L571.80 242.35L572.04 249.82L572.27 257.26L572.51 264.65L572.75 271.93L572.98 279.08L573.22 286.07L573.46 292.85L573.69 299.39L573.93 305.65L574.16 311.61L574.40 317.22L574.56 320.68L574.64 322.46L574.87 327.51L575.11 332.40L575.35 337.15L575.58 341.74L575.82 346.19L576.05 350.48L576.29 354.61L576.53 358.59L576.76 362.41L577.00 366.07L577.24 369.58L577.47 372.92L577.67 375.57L577.71 376.10L577.95 379.16L578.18 382.14L578.42 385.02L578.65 387.81L578.89 390.51L579.13 393.11L579.36 395.61L579.60 398.01L579.84 400.32L580.07 402.52L580.31 404.61L580.54 406.61L580.78 408.49L580.78 408.51L581.02 410.29L581.25 412.02L581.49 413.69L581.73 415.30L581.96 416.85L582.20 418.35L582.44 419.78L582.67 421.17L582.91 422.50L583.14 423.78L583.38 425.01L583.62 426.20L583.85 427.34L583.90 427.59L584.09 428.46L584.33 429.58L584.56 430.70L584.80 431.81L585.03 432.89L585.27 433.94L585.51 434.93L585.74 435.87L585.98 436.75L586.22 437.54L586.45 438.24L586.69 438.85L586.92 439.34L587.02 439.50L587.16 439.73L587.40 440.10L587.63 440.47L587.87 440.83L588.11 441.18L588.34 441.53L588.58 441.86L588.82 442.20L589.05 442.52L589.29 442.83L589.52 443.14L589.76 443.44L590.00 443.73L590.23 444.01L590.47 444.29L590.71 444.55L590.94 444.81L591.18 445.06L591.41 445.29L591.65 445.52L591.89 445.74L592.12 445.95L592.36 446.15L592.60 446.34L592.83 446.52L593.07 446.69L593.31 446.85L593.54 447.00L593.78 447.14L594.01 447.26L594.25 447.38L594.49 447.49L594.72 447.58L594.96 447.66L595.20 447.73L595.43 447.79L595.67 447.84L595.90 447.88L596.14 447.90L596.38 447.91L596.47 447.91L596.61 447.91L596.85 447.89L597.09 447.86L597.32 447.81L597.56 447.76L597.79 447.68L598.03 447.60L598.27 447.51L598.50 447.40L598.74 447.28L598.98 447.15L599.21 447.01L599.45 446.87L599.69 446.71L599.92 446.54L600.16 446.37L600.39 446.19L600.63 446.00L600.87 445.81L601.10 445.61L601.34 445.40L601.58 445.19L601.81 444.98L602.05 444.76L602.28 444.54L602.52 444.31L602.76 444.08L602.99 443.86L603.23 443.62L603.47 443.39L603.70 443.16L603.94 442.93L604.17 442.70L604.41 442.47L604.65 442.24L604.88 442.01L605.12 441.78L605.36 441.56L605.39 441.54L605.59 441.34L605.83 441.12L606.07 440.90L606.30 440.67L606.54 440.44L606.77 440.20L607.01 439.97L607.25 439.73L607.48 439.48L607.72 439.24L607.96 438.98L608.19 438.73L608.43 438.47L608.66 438.20L608.90 437.93L609.14 437.66L609.37 437.38L609.61 437.09L609.85 436.80L610.08 436.50L610.32 436.20L610.56 435.89L610.79 435.58L611.03 435.25L611.26 434.93L611.50 434.59L611.74 434.25L611.97 433.90L612.21 433.54L612.45 433.17L612.68 432.80L612.92 432.42L613.15 432.03L613.39 431.63L613.63 431.22L613.86 430.80L614.10 430.38L614.34 429.94L614.57 429.50L614.81 429.04L614.99 428.70L615.04 428.58L615.28 428.07L615.52 427.52L615.75 426.93L615.99 426.29L616.23 425.62L616.46 424.92L616.70 424.18L616.94 423.42L617.17 422.64L617.41 421.84L617.64 421.03L617.88 420.21L618.12 419.38L618.31 418.69L618.35 418.54L618.59 417.69L618.83 416.81L619.06 415.90L619.30 414.96L619.53 414.00L619.77 413.01L620.01 412.00L620.24 410.97L620.48 409.92L620.72 408.86L620.95 407.77L621.19 406.67L621.43 405.56L621.66 404.44L621.86 403.46L621.90 403.30L622.13 402.16L622.37 401.02L622.61 399.87L622.84 398.71L623.08 397.53L623.32 396.33L623.55 395.09L623.79 393.81L624.02 392.50L624.26 391.13L624.50 389.71L624.73 388.23L624.97 386.69L625.19 385.18L625.21 385.07L625.44 383.36L625.68 381.55L625.91 379.65L626.15 377.65L626.39 375.55L626.62 373.37L626.86 371.10L627.10 368.75L627.33 366.31L627.57 363.79L627.81 361.20L628.04 358.52L628.21 356.54L628.28 355.77L628.51 352.87L628.75 349.80L628.99 346.56L629.22 343.18L629.46 339.67L629.70 336.04L629.93 332.29L630.17 328.46L630.40 324.54L630.64 320.55L630.88 316.51L631.01 314.21L631.11 312.41L631.35 308.20L631.59 303.86L631.82 299.41L632.06 294.85L632.30 290.17L632.53 285.39L632.77 280.51L633.00 275.54L633.24 270.48L633.48 265.33L633.71 260.10L633.95 254.80L634.11 251.17L634.19 249.43L634.42 243.97L634.66 238.41L634.89 232.72L635.13 226.90L635.37 220.93L635.60 214.77L635.84 208.42L636.08 201.86L636.31 195.07L636.38 193.18L636.55 187.84L636.78 179.89L637.02 171.68L637.26 163.70L637.28 162.86L637.49 155.89L637.73 147.74L637.97 139.44L638.20 131.20L638.44 123.21L638.68 115.68L638.91 108.81L639.15 102.80L639.38 97.85L639.40 97.56L639.62 93.55L639.86 89.26L640.09 85.10L640.33 81.17L640.57 77.59L640.80 74.47L641.04 71.92L641.27 70.06L641.51 68.99L641.67 68.78L641.75 68.83L641.98 69.52L642.22 70.80L642.46 72.45L642.69 74.20L642.80 74.98L642.93 75.97L643.17 78.32L643.40 81.18L643.64 84.40L643.87 87.81L644.11 91.24L644.35 94.54L644.58 97.54L644.82 100.07L645.06 101.98L645.29 103.09L645.45 103.31L645.53 103.24L645.76 102.31L646.00 100.42L646.24 97.74L646.47 94.42L646.71 90.64L646.95 86.55L647.18 82.32L647.42 78.12L647.65 74.11L647.89 70.44L648.13 67.30L648.36 64.83L648.60 63.20L648.84 62.59L648.85 62.58L649.07 63.44L649.31 66.05L649.55 70.21L649.78 75.74L650.02 82.42L650.25 90.05L650.49 98.44L650.73 107.38L650.96 116.67L651.20 126.11L651.44 135.49L651.67 144.62L651.91 153.30L651.95 154.67L652.14 161.96L652.38 171.45L652.62 181.35L652.85 191.22L653.08 200.26L653.09 200.60L653.33 209.71L653.56 218.91L653.80 228.15L654.04 237.38L654.27 246.52L654.51 255.54L654.74 264.36L654.98 272.93L655.22 281.18L655.45 289.07L655.69 296.53L655.93 303.50L656.10 308.42L656.16 309.93L656.40 316.05L656.63 321.96L656.87 327.67L657.11 333.18L657.34 338.50L657.58 343.64L657.82 348.60L658.05 353.39L658.29 358.01L658.52 362.48L658.76 366.79L659.00 370.96L659.23 374.98L659.43 378.23L659.47 378.88L659.71 382.65L659.94 386.32L660.18 389.89L660.42 393.34L660.65 396.69L660.89 399.93L661.12 403.07L661.36 406.09L661.60 409.01L661.83 411.82L662.07 414.53L662.31 417.12L662.45 418.69L662.54 419.62L662.78 422.08L663.01 424.52L663.25 426.91L663.49 429.24L663.72 431.49L663.96 433.64L664.20 435.68L664.43 437.57L664.67 439.32L664.91 440.90L665.14 442.29L665.25 442.86L665.38 443.50L665.61 444.62L665.85 445.67L666.09 446.66L666.32 447.60L666.56 448.48L666.80 449.32L667.03 450.12L667.27 450.88L667.50 451.61L667.74 452.31L667.98 452.99L668.21 453.66L668.45 454.31L668.69 454.96L668.88 455.48L668.92 455.60L669.16 456.28L669.39 456.98L669.63 457.70L669.87 458.43L670.10 459.13L670.34 459.81L670.58 460.43L670.81 461.00L671.05 461.48L671.29 461.88L671.52 462.16L671.76 462.32L671.90 462.34L671.99 462.33L672.23 462.20L672.47 461.92L672.70 461.53L672.94 461.02L673.18 460.40L673.41 459.71L673.65 458.93L673.88 458.10L674.12 457.22L674.17 457.03L674.36 456.16L674.59 454.68L674.83 452.79L675.07 450.51L675.30 447.87L675.54 444.91L675.78 441.64L676.01 438.10L676.25 434.30L676.48 430.29L676.72 426.08L676.96 421.70L677.19 417.19" fill="none" stroke="#000" stroke-width="3.6" stroke-linejoin="round" stroke-linecap="butt"/>
<path d="M105.50 493.68h9.9v9.9h-9.9zM108.62 493.41h9.9v9.9h-9.9zM111.73 493.13h9.9v9.9h-9.9zM114.85 492.86h9.9v9.9h-9.9zM117.96 492.60h9.9v9.9h-9.9zM121.08 492.30h9.9v9.9h-9.9zM124.19 491.96h9.9v9.9h-9.9zM127.30 491.57h9.9v9.9h-9.9zM130.42 491.17h9.9v9.9h-9.9zM133.53 490.73h9.9v9.9h-9.9zM136.65 490.16h9.9v9.9h-9.9zM139.76 489.41h9.9v9.9h-9.9zM142.88 488.38h9.9v9.9h-9.9zM145.99 486.61h9.9v9.9h-9.9zM149.11 483.52h9.9v9.9h-9.9zM152.22 478.62h9.9v9.9h-9.9zM155.34 471.55h9.9v9.9h-9.9zM158.45 460.95h9.9v9.9h-9.9zM161.57 439.71h9.9v9.9h-9.9zM164.68 395.46h9.9v9.9h-9.9zM167.80 296.32h9.9v9.9h-9.9zM170.91 116.12h9.9v9.9h-9.9zM174.03 89.93h9.9v9.9h-9.9zM177.14 250.66h9.9v9.9h-9.9zM180.26 348.06h9.9v9.9h-9.9zM183.37 401.63h9.9v9.9h-9.9zM186.49 426.86h9.9v9.9h-9.9zM189.60 439.69h9.9v9.9h-9.9zM192.72 447.20h9.9v9.9h-9.9zM195.83 452.70h9.9v9.9h-9.9zM198.95 455.91h9.9v9.9h-9.9zM202.06 456.72h9.9v9.9h-9.9zM205.17 456.61h9.9v9.9h-9.9zM208.29 456.44h9.9v9.9h-9.9zM211.40 456.05h9.9v9.9h-9.9zM214.52 455.76h9.9v9.9h-9.9zM217.63 455.75h9.9v9.9h-9.9zM220.75 455.75h9.9v9.9h-9.9zM223.86 471.33h9.9v9.9h-9.9zM226.98 485.34h9.9v9.9h-9.9zM230.09 469.18h9.9v9.9h-9.9zM233.21 457.69h9.9v9.9h-9.9zM236.32 453.78h9.9v9.9h-9.9zM239.44 451.30h9.9v9.9h-9.9zM242.55 449.46h9.9v9.9h-9.9zM245.67 447.98h9.9v9.9h-9.9zM248.78 446.83h9.9v9.9h-9.9zM251.90 445.93h9.9v9.9h-9.9zM255.01 445.19h9.9v9.9h-9.9zM258.13 444.55h9.9v9.9h-9.9zM261.24 444.02h9.9v9.9h-9.9zM264.36 443.54h9.9v9.9h-9.9zM267.47 443.07h9.9v9.9h-9.9zM270.59 442.54h9.9v9.9h-9.9zM273.70 441.94h9.9v9.9h-9.9zM276.81 441.33h9.9v9.9h-9.9zM279.93 440.62h9.9v9.9h-9.9zM283.04 439.71h9.9v9.9h-9.9zM286.16 438.40h9.9v9.9h-9.9zM289.27 436.29h9.9v9.9h-9.9zM292.39 433.27h9.9v9.9h-9.9zM295.50 427.91h9.9v9.9h-9.9zM298.62 410.70h9.9v9.9h-9.9zM301.73 359.60h9.9v9.9h-9.9zM304.85 403.56h9.9v9.9h-9.9zM307.96 418.18h9.9v9.9h-9.9zM311.08 417.30h9.9v9.9h-9.9zM314.19 412.80h9.9v9.9h-9.9zM317.31 404.89h9.9v9.9h-9.9zM320.42 393.32h9.9v9.9h-9.9zM323.54 374.31h9.9v9.9h-9.9zM326.65 356.09h9.9v9.9h-9.9zM329.77 321.45h9.9v9.9h-9.9zM332.88 276.40h9.9v9.9h-9.9zM336.00 215.76h9.9v9.9h-9.9zM339.11 146.67h9.9v9.9h-9.9zM342.23 99.26h9.9v9.9h-9.9zM345.34 110.29h9.9v9.9h-9.9zM348.46 173.16h9.9v9.9h-9.9zM351.57 248.43h9.9v9.9h-9.9zM354.68 310.42h9.9v9.9h-9.9zM357.80 355.27h9.9v9.9h-9.9zM360.91 385.75h9.9v9.9h-9.9zM364.03 407.07h9.9v9.9h-9.9zM367.14 422.04h9.9v9.9h-9.9zM370.26 433.85h9.9v9.9h-9.9zM373.37 441.67h9.9v9.9h-9.9zM376.49 445.66h9.9v9.9h-9.9zM379.60 448.31h9.9v9.9h-9.9zM382.72 450.84h9.9v9.9h-9.9zM385.83 453.07h9.9v9.9h-9.9zM388.95 454.40h9.9v9.9h-9.9zM392.06 455.16h9.9v9.9h-9.9zM395.18 454.89h9.9v9.9h-9.9zM398.29 454.03h9.9v9.9h-9.9zM401.41 451.85h9.9v9.9h-9.9zM404.52 448.80h9.9v9.9h-9.9zM407.64 444.86h9.9v9.9h-9.9zM410.75 439.33h9.9v9.9h-9.9zM413.87 430.15h9.9v9.9h-9.9zM416.98 414.48h9.9v9.9h-9.9zM420.10 387.23h9.9v9.9h-9.9zM423.21 342.58h9.9v9.9h-9.9zM426.33 262.50h9.9v9.9h-9.9zM429.44 172.14h9.9v9.9h-9.9zM432.55 144.25h9.9v9.9h-9.9zM435.67 222.60h9.9v9.9h-9.9zM438.78 310.23h9.9v9.9h-9.9zM441.90 369.17h9.9v9.9h-9.9zM445.01 401.05h9.9v9.9h-9.9zM448.13 421.58h9.9v9.9h-9.9zM451.24 432.65h9.9v9.9h-9.9zM454.36 438.16h9.9v9.9h-9.9zM457.47 440.33h9.9v9.9h-9.9zM460.59 437.13h9.9v9.9h-9.9zM463.70 428.69h9.9v9.9h-9.9zM466.82 392.44h9.9v9.9h-9.9zM469.93 177.39h9.9v9.9h-9.9zM473.05 265.18h9.9v9.9h-9.9zM476.16 405.84h9.9v9.9h-9.9zM479.28 438.82h9.9v9.9h-9.9zM482.39 450.30h9.9v9.9h-9.9zM485.51 455.42h9.9v9.9h-9.9zM488.62 458.68h9.9v9.9h-9.9zM491.74 460.44h9.9v9.9h-9.9zM494.85 461.66h9.9v9.9h-9.9zM497.97 462.60h9.9v9.9h-9.9zM501.08 463.14h9.9v9.9h-9.9zM504.20 463.19h9.9v9.9h-9.9zM507.31 462.70h9.9v9.9h-9.9zM510.42 461.88h9.9v9.9h-9.9zM513.54 460.93h9.9v9.9h-9.9zM516.65 459.71h9.9v9.9h-9.9zM519.77 458.11h9.9v9.9h-9.9zM522.88 456.38h9.9v9.9h-9.9zM526.00 454.33h9.9v9.9h-9.9zM529.11 451.27h9.9v9.9h-9.9zM532.23 446.52h9.9v9.9h-9.9zM535.34 440.38h9.9v9.9h-9.9zM538.46 431.44h9.9v9.9h-9.9zM541.57 420.23h9.9v9.9h-9.9zM544.69 404.87h9.9v9.9h-9.9zM547.80 381.51h9.9v9.9h-9.9zM550.92 343.66h9.9v9.9h-9.9zM554.03 287.71h9.9v9.9h-9.9zM557.15 205.28h9.9v9.9h-9.9zM560.26 118.75h9.9v9.9h-9.9zM563.38 118.73h9.9v9.9h-9.9zM566.49 226.07h9.9v9.9h-9.9zM569.61 315.78h9.9v9.9h-9.9zM572.72 370.67h9.9v9.9h-9.9zM575.84 403.61h9.9v9.9h-9.9zM578.96 422.65h9.9v9.9h-9.9zM582.08 434.56h9.9v9.9h-9.9zM585.20 438.96h9.9v9.9h-9.9zM588.32 441.88h9.9v9.9h-9.9zM591.46 442.96h9.9v9.9h-9.9zM594.60 441.85h9.9v9.9h-9.9zM597.75 439.19h9.9v9.9h-9.9zM600.92 436.13h9.9v9.9h-9.9zM604.09 432.82h9.9v9.9h-9.9zM607.26 428.58h9.9v9.9h-9.9zM610.43 422.91h9.9v9.9h-9.9zM613.58 412.95h9.9v9.9h-9.9zM616.73 399.41h9.9v9.9h-9.9zM619.86 382.77h9.9v9.9h-9.9zM622.99 354.73h9.9v9.9h-9.9zM626.11 308.35h9.9v9.9h-9.9zM629.23 244.54h9.9v9.9h-9.9zM632.35 157.36h9.9v9.9h-9.9zM635.47 74.84h9.9v9.9h-9.9zM638.58 77.99h9.9v9.9h-9.9zM641.70 86.70h9.9v9.9h-9.9zM644.81 70.33h9.9v9.9h-9.9zM647.93 187.30h9.9v9.9h-9.9zM651.04 300.46h9.9v9.9h-9.9zM654.16 367.92h9.9v9.9h-9.9zM657.27 411.28h9.9v9.9h-9.9zM660.39 438.35h9.9v9.9h-9.9zM663.50 449.37h9.9v9.9h-9.9zM666.62 457.25h9.9v9.9h-9.9zM669.73 449.06h9.9v9.9h-9.9z" fill="#000"/>
</g>
<rect x="211.9" y="63.4" width="125.4" height="91.7" fill="#fff" stroke="#b0b0b0" stroke-width="1.2"/>
<path d="M211.90 155.1v2.5M236.98 155.1v2.5M262.06 155.1v2.5M287.14 155.1v2.5M312.22 155.1v2.5M337.30 155.1v2.5M224.44 155.1v1.5M249.52 155.1v1.5M274.60 155.1v1.5M299.68 155.1v1.5M324.76 155.1v1.5M211.9 63.40h-2.5M211.9 92.50h-2.5M211.9 121.60h-2.5M211.9 150.70h-2.5M211.9 77.95h-1.5M211.9 107.05h-1.5M211.9 136.15h-1.5" stroke="#9a9a9a" stroke-width="0.8" fill="none"/>
<path d="M251.28 155.06L251.46 154.26L251.65 153.50L251.84 152.73L252.02 151.88L252.03 151.86L252.21 150.97L252.40 150.01L252.58 149.02L252.77 147.99L252.96 146.93L253.15 145.84L253.33 144.72L253.52 143.58L253.71 142.40L253.89 141.20L254.08 139.98L254.27 138.73L254.46 137.47L254.64 136.19L254.83 134.89L255.02 133.57L255.20 132.25L255.39 130.91L255.58 129.56L255.76 128.20L255.95 126.84L256.14 125.47L256.33 124.09L256.51 122.72L256.70 121.34L256.89 119.97L257.07 118.60L257.26 117.23L257.45 115.88L257.64 114.52L257.82 113.18L258.01 111.85L258.20 110.54L258.38 109.23L258.57 107.95L258.76 106.68L258.94 105.43L259.13 104.20L259.32 103.00L259.51 101.82L259.69 100.66L259.88 99.54L260.07 98.44L260.25 97.37L260.44 96.34L260.63 95.34L260.82 94.38L261.00 93.45L261.19 92.57L261.38 91.72L261.56 90.92L261.75 90.16L261.94 89.45L262.06 89.01L262.12 88.78L262.31 88.12L262.50 87.45L262.69 86.79L262.87 86.12L263.06 85.45L263.25 84.78L263.43 84.12L263.62 83.46L263.81 82.80L264.00 82.14L264.18 81.50L264.37 80.86L264.56 80.22L264.74 79.60L264.93 78.99L265.12 78.39L265.30 77.80L265.49 77.22L265.68 76.66L265.87 76.12L266.05 75.59L266.24 75.08L266.43 74.59L266.61 74.11L266.80 73.66L266.99 73.23L267.17 72.82L267.36 72.44L267.55 72.08L267.74 71.75L267.92 71.45L268.11 71.17L268.30 70.92L268.48 70.70L268.67 70.52L268.86 70.36L269.05 70.24L269.23 70.16L269.42 70.11L269.58 70.09L269.61 70.09L269.79 70.11L269.98 70.17L270.17 70.25L270.35 70.36L270.54 70.50L270.73 70.66L270.92 70.84L271.10 71.05L271.29 71.27L271.48 71.50L271.66 71.75L271.85 72.00L272.04 72.27L272.23 72.54L272.41 72.81L272.60 73.09L272.79 73.37L272.97 73.64L273.16 73.91L273.35 74.17L273.35 74.17L273.53 74.44L273.72 74.74L273.91 75.06L274.10 75.41L274.28 75.79L274.47 76.18L274.66 76.59L274.84 77.03L275.03 77.47L275.22 77.94L275.41 78.42L275.59 78.91L275.78 79.41L275.97 79.93L276.15 80.45L276.34 80.98L276.53 81.51L276.71 82.05L276.90 82.59L277.09 83.13L277.28 83.67L277.46 84.21L277.65 84.74L277.84 85.28L278.02 85.80L278.21 86.32L278.40 86.82L278.59 87.32L278.77 87.81L278.96 88.28L279.15 88.73L279.33 89.17L279.52 89.59L279.71 90.00L279.89 90.38L280.08 90.74L280.27 91.07L280.46 91.38L280.64 91.66L280.83 91.92L281.02 92.14L281.20 92.34L281.39 92.50L281.58 92.63L281.76 92.72L281.95 92.77L282.12 92.79L282.14 92.79L282.33 92.77L282.51 92.70L282.70 92.59L282.89 92.44L283.07 92.25L283.26 92.03L283.45 91.77L283.64 91.48L283.82 91.15L284.01 90.80L284.20 90.41L284.38 90.00L284.57 89.56L284.76 89.10L284.94 88.61L285.13 88.10L285.32 87.57L285.51 87.02L285.69 86.45L285.88 85.87L286.07 85.27L286.25 84.66L286.44 84.04L286.63 83.40L286.82 82.76L287.00 82.11L287.19 81.45L287.38 80.79L287.56 80.13L287.75 79.46L287.94 78.80L288.12 78.13L288.31 77.47L288.50 76.82L288.69 76.16L288.87 75.52L289.06 74.88L289.25 74.26L289.43 73.65L289.62 73.04L289.81 72.46L290.00 71.89L290.18 71.34L290.37 70.80L290.56 70.29L290.74 69.80L290.93 69.33L291.12 68.88L291.30 68.47L291.49 68.08L291.68 67.72L291.87 67.39L292.05 67.09L292.24 66.82L292.43 66.59L292.61 66.40L292.80 66.24L292.99 66.13L293.18 66.05L293.36 66.02L293.41 66.02L293.55 66.04L293.74 66.13L293.92 66.29L294.11 66.51L294.30 66.80L294.48 67.16L294.67 67.58L294.86 68.06L295.05 68.59L295.23 69.19L295.42 69.84L295.61 70.54L295.79 71.29L295.98 72.10L296.17 72.95L296.36 73.85L296.54 74.80L296.73 75.78L296.92 76.81L297.10 77.88L297.29 78.98L297.48 80.12L297.66 81.30L297.85 82.50L298.04 83.74L298.23 85.01L298.41 86.30L298.60 87.62L298.79 88.96L298.97 90.32L299.16 91.70L299.35 93.10L299.53 94.52L299.72 95.95L299.91 97.40L300.10 98.85L300.28 100.32L300.47 101.79L300.66 103.27L300.84 104.75L301.03 106.23L301.22 107.72L301.41 109.20L301.59 110.68L301.78 112.16L301.97 113.62L302.15 115.08L302.34 116.53L302.53 117.97L302.71 119.40L302.90 120.80L303.09 122.19L303.28 123.57L303.46 124.92L303.65 126.25L303.69 126.55L303.84 127.57L304.02 128.95L304.21 130.37L304.40 131.83L304.59 133.32L304.77 134.85L304.96 136.40L305.15 137.97L305.33 139.55L305.52 141.14L305.71 142.74L305.89 144.34L306.08 145.93L306.27 147.51L306.46 149.07L306.64 150.61L306.83 152.13L307.02 153.62L307.20 155.06" fill="none" stroke="#000" stroke-width="2" stroke-linejoin="round"/>
<path d="M250.73 150.56h2.6v2.6h-2.6zM260.76 87.71h2.6v2.6h-2.6zM272.05 72.87h2.6v2.6h-2.6zM282.08 90.57h2.6v2.6h-2.6zM292.11 64.72h2.6v2.6h-2.6zM302.39 125.25h2.6v2.6h-2.6z" fill="#000"/>
<text x="211.9" y="166.0" font-family="'Liberation Sans', Arial, Helvetica, sans-serif" font-weight="bold" font-size="8.2" text-anchor="middle" fill="#000">7.8</text>
<text x="237.0" y="166.0" font-family="'Liberation Sans', Arial, Helvetica, sans-serif" font-weight="bold" font-size="8.2" text-anchor="middle" fill="#000">7.9</text>
<text x="262.1" y="166.0" font-family="'Liberation Sans', Arial, Helvetica, sans-serif" font-weight="bold" font-size="8.2" text-anchor="middle" fill="#000">8.0</text>
<text x="287.1" y="166.0" font-family="'Liberation Sans', Arial, Helvetica, sans-serif" font-weight="bold" font-size="8.2" text-anchor="middle" fill="#000">8.1</text>
<text x="312.2" y="166.0" font-family="'Liberation Sans', Arial, Helvetica, sans-serif" font-weight="bold" font-size="8.2" text-anchor="middle" fill="#000">8.2</text>
<text x="337.3" y="166.0" font-family="'Liberation Sans', Arial, Helvetica, sans-serif" font-weight="bold" font-size="8.2" text-anchor="middle" fill="#000">8.3</text>
<text x="208.5" y="65.6" font-family="'Liberation Sans', Arial, Helvetica, sans-serif" font-weight="bold" font-size="8.2" text-anchor="end" fill="#000">1.0</text>
<text x="208.5" y="94.7" font-family="'Liberation Sans', Arial, Helvetica, sans-serif" font-weight="bold" font-size="8.2" text-anchor="end" fill="#000">0.9</text>
<text x="208.5" y="123.8" font-family="'Liberation Sans', Arial, Helvetica, sans-serif" font-weight="bold" font-size="8.2" text-anchor="end" fill="#000">0.8</text>
<text x="208.5" y="152.9" font-family="'Liberation Sans', Arial, Helvetica, sans-serif" font-weight="bold" font-size="8.2" text-anchor="end" fill="#000">0.7</text>
<text x="274.5" y="177.7" font-family="'Liberation Sans', Arial, Helvetica, sans-serif" font-weight="bold" font-size="13.3" text-anchor="middle" fill="#000">Frequency (THz)</text>
<text transform="translate(193.2 109) rotate(-90)" font-family="'Liberation Sans', Arial, Helvetica, sans-serif" font-weight="bold" font-size="13.4" text-anchor="middle" fill="#000">Absorption (A)</text>
<rect x="606.4" y="58.6" width="70.8" height="140.3" fill="#cccccc" fill-opacity="0.5" stroke="#ff0000" stroke-opacity="0.5" stroke-width="1"/>
<path d="M110.3 58.6H677.2V501.3H110.3Z" stroke="#000" stroke-width="2" fill="none" stroke-linejoin="miter"/><path d="M110.30 501.3v9M185.89 501.3v9M261.47 501.3v9M337.06 501.3v9M412.64 501.3v9M488.23 501.3v9M563.81 501.3v9M639.40 501.3v9M148.09 501.3v4.5M223.68 501.3v4.5M299.26 501.3v4.5M374.85 501.3v4.5M450.44 501.3v4.5M526.02 501.3v4.5M601.61 501.3v4.5M677.19 501.3v4.5M110.3 501.30h-9M110.3 412.76h-9M110.3 324.22h-9M110.3 235.68h-9M110.3 147.14h-9M110.3 58.60h-9M110.3 457.03h-4.5M110.3 368.49h-4.5M110.3 279.95h-4.5M110.3 191.41h-4.5M110.3 102.87h-4.5" stroke="#000" stroke-width="2" fill="none"/>
<text transform="translate(110.3 538.9) scale(1 1.056)" font-family="'Liberation Sans', Arial, Helvetica, sans-serif" font-weight="bold" font-size="30.0" text-anchor="middle">1</text>
<text transform="translate(185.9 538.9) scale(1 1.056)" font-family="'Liberation Sans', Arial, Helvetica, sans-serif" font-weight="bold" font-size="30.0" text-anchor="middle">2</text>
<text transform="translate(261.5 538.9) scale(1 1.056)" font-family="'Liberation Sans', Arial, Helvetica, sans-serif" font-weight="bold" font-size="30.0" text-anchor="middle">3</text>
<text transform="translate(337.1 538.9) scale(1 1.056)" font-family="'Liberation Sans', Arial, Helvetica, sans-serif" font-weight="bold" font-size="30.0" text-anchor="middle">4</text>
<text transform="translate(412.6 538.9) scale(1 1.056)" font-family="'Liberation Sans', Arial, Helvetica, sans-serif" font-weight="bold" font-size="30.0" text-anchor="middle">5</text>
<text transform="translate(488.2 538.9) scale(1 1.056)" font-family="'Liberation Sans', Arial, Helvetica, sans-serif" font-weight="bold" font-size="30.0" text-anchor="middle">6</text>
<text transform="translate(563.8 538.9) scale(1 1.056)" font-family="'Liberation Sans', Arial, Helvetica, sans-serif" font-weight="bold" font-size="30.0" text-anchor="middle">7</text>
<text transform="translate(639.4 538.9) scale(1 1.056)" font-family="'Liberation Sans', Arial, Helvetica, sans-serif" font-weight="bold" font-size="30.0" text-anchor="middle">8</text>
<text transform="translate(95.6 510.5) scale(1 1.056)" font-family="'Liberation Sans', Arial, Helvetica, sans-serif" font-weight="bold" font-size="30.0" text-anchor="end">0.0</text>
<text transform="translate(95.6 422.0) scale(1 1.056)" font-family="'Liberation Sans', Arial, Helvetica, sans-serif" font-weight="bold" font-size="30.0" text-anchor="end">0.2</text>
<text transform="translate(95.6 333.4) scale(1 1.056)" font-family="'Liberation Sans', Arial, Helvetica, sans-serif" font-weight="bold" font-size="30.0" text-anchor="end">0.4</text>
<text transform="translate(95.6 244.9) scale(1 1.056)" font-family="'Liberation Sans', Arial, Helvetica, sans-serif" font-weight="bold" font-size="30.0" text-anchor="end">0.6</text>
<text transform="translate(95.6 156.3) scale(1 1.056)" font-family="'Liberation Sans', Arial, Helvetica, sans-serif" font-weight="bold" font-size="30.0" text-anchor="end">0.8</text>
<text transform="translate(95.6 67.8) scale(1 1.056)" font-family="'Liberation Sans', Arial, Helvetica, sans-serif" font-weight="bold" font-size="30.0" text-anchor="end">1.0</text>
<text x="393.7" y="575.1" font-family="'Liberation Sans', Arial, Helvetica, sans-serif" font-weight="bold" font-size="38.6" text-anchor="middle">Frequency (THz)</text>
<text transform="translate(39.8 280.7) rotate(-90) scale(1 1.04)" font-family="'Liberation Sans', Arial, Helvetica, sans-serif" font-weight="bold" font-size="37.6" text-anchor="middle">Absorption (A)</text>
<text x="7.5" y="25.7" font-family="'Liberation Serif', 'Times New Roman', Times, serif" font-weight="bold" font-size="34">(a)</text>
</g>
<g id="panel-b">
<g clip-path="url(#clipB)">
<path d="M845.05 279.61L845.28 279.61L845.52 279.61L845.75 279.61L845.99 279.61L846.22 279.61L846.46 279.61L846.69 279.61L846.92 279.61L847.16 279.61L847.39 279.61L847.63 279.61L847.86 279.60L848.10 279.60L848.33 279.60L848.57 279.60L848.80 279.60L849.03 279.60L849.27 279.60L849.50 279.59L849.74 279.59L849.97 279.59L850.21 279.59L850.44 279.58L850.67 279.58L850.91 279.58L851.14 279.58L851.38 279.57L851.61 279.57L851.85 279.57L852.08 279.56L852.31 279.56L852.55 279.55L852.78 279.55L853.02 279.55L853.25 279.54L853.49 279.54L853.72 279.53L853.95 279.53L854.19 279.52L854.42 279.52L854.66 279.51L854.89 279.50L855.13 279.50L855.36 279.49L855.60 279.48L855.83 279.48L856.06 279.47L856.29 279.46L856.30 279.46L856.53 279.43L856.77 279.34L857.00 279.21L857.24 279.05L857.47 278.86L857.70 278.64L857.94 278.41L858.17 278.18L858.41 277.95L858.64 277.73L858.88 277.52L859.11 277.33L859.34 277.18L859.58 277.06L859.67 277.03L859.81 276.98L860.05 276.92L860.28 276.87L860.52 276.83L860.75 276.80L860.99 276.77L861.22 276.74L861.45 276.71L861.69 276.68L861.92 276.64L862.16 276.60L862.39 276.54L862.63 276.46L862.86 276.37L863.04 276.29L863.09 275.61L863.33 259.61L863.56 227.90L863.80 187.87L864.03 146.93L864.27 112.46L864.50 91.86L864.61 89.08L864.73 92.20L864.97 113.31L865.20 148.08L865.44 189.10L865.67 228.99L865.91 260.34L866.14 275.77L866.19 276.29L866.37 276.38L866.61 276.47L866.84 276.54L867.08 276.59L867.31 276.64L867.55 276.67L867.78 276.70L868.02 276.72L868.25 276.75L868.48 276.78L868.72 276.82L868.95 276.87L869.19 276.94L869.41 277.03L869.42 277.03L869.66 277.22L869.89 277.53L870.12 277.92L870.36 278.35L870.59 278.77L870.83 279.12L871.06 279.37L871.28 279.46L871.30 279.46L871.53 279.47L871.76 279.48L872.00 279.49L872.23 279.49L872.47 279.50L872.70 279.51L872.94 279.51L873.17 279.52L873.40 279.52L873.64 279.53L873.87 279.54L874.11 279.54L874.34 279.55L874.58 279.55L874.81 279.55L875.05 279.56L875.28 279.56L875.51 279.57L875.75 279.57L875.98 279.57L876.22 279.58L876.45 279.58L876.69 279.58L876.92 279.59L877.15 279.59L877.39 279.59L877.62 279.59L877.86 279.59L878.09 279.60L878.33 279.60L878.56 279.60L878.79 279.60L879.03 279.60L879.26 279.60L879.50 279.61L879.73 279.61L879.97 279.61L880.20 279.61L880.44 279.61L880.67 279.61L880.90 279.61L881.14 279.61L881.37 279.61L881.61 279.61L881.84 279.61L882.08 279.61L882.31 279.61L882.53 279.61L882.54 279.61L882.78 279.61L883.01 279.61L883.25 279.61L883.48 279.61L883.72 279.61L883.95 279.61L884.18 279.61L884.42 279.61L884.65 279.61L884.89 279.61L885.12 279.61L885.36 279.61L885.59 279.61L885.82 279.61L886.06 279.61L886.29 279.61L886.53 279.61L886.76 279.61L887.00 279.61L887.23 279.61L887.47 279.61L887.70 279.61L887.93 279.61L888.17 279.61L888.40 279.61L888.64 279.61L888.87 279.61L889.11 279.61L889.34 279.61L889.57 279.61L889.81 279.61L890.04 279.61L890.28 279.61L890.51 279.61L890.75 279.61L890.98 279.61L891.21 279.61L891.45 279.61L891.68 279.61L891.92 279.61L892.15 279.61L892.39 279.61L892.62 279.61L892.86 279.61L893.09 279.61L893.32 279.61L893.56 279.61L893.79 279.61L894.03 279.61L894.26 279.61L894.50 279.61L894.73 279.61L894.96 279.61L895.20 279.61L895.43 279.61L895.67 279.61L895.90 279.61L896.14 279.61L896.37 279.61L896.60 279.61L896.84 279.61L897.07 279.61L897.31 279.61L897.54 279.61L897.78 279.61L898.01 279.61L898.24 279.61L898.48 279.61L898.71 279.61L898.95 279.61L899.18 279.61L899.42 279.61L899.65 279.61L899.89 279.61L900.12 279.61L900.35 279.61L900.59 279.61L900.82 279.61L901.06 279.61L901.29 279.61L901.53 279.61L901.76 279.61L901.99 279.61L902.23 279.61L902.46 279.61L902.70 279.61L902.93 279.61L903.17 279.61L903.40 279.61L903.63 279.61L903.87 279.61L904.10 279.61L904.34 279.61L904.57 279.61L904.81 279.61L905.04 279.61L905.28 279.61L905.51 279.61L905.74 279.61L905.98 279.61L906.21 279.61L906.45 279.61L906.68 279.61L906.92 279.61L907.15 279.61L907.38 279.61L907.62 279.61L907.85 279.61L908.09 279.61L908.32 279.61L908.56 279.61L908.79 279.61L909.02 279.61L909.26 279.61L909.49 279.61L909.73 279.61L909.96 279.61L910.20 279.61L910.43 279.61L910.66 279.61L910.90 279.61L911.13 279.61L911.37 279.61L911.39 279.61L911.60 279.44L911.84 278.89L912.07 278.03L912.31 276.92L912.54 275.62L912.77 274.20L913.01 272.72L913.24 271.24L913.48 269.83L913.71 268.54L913.95 267.45L914.18 266.61L914.41 266.09L914.61 265.95L914.65 265.96L914.88 266.24L915.12 266.90L915.35 267.87L915.59 269.07L915.82 270.45L916.05 271.94L916.29 273.46L916.52 274.95L916.76 276.35L916.99 277.58L917.23 278.57L917.46 279.27L917.70 279.60L917.76 279.61L917.93 279.61L918.16 279.61L918.40 279.61L918.63 279.61L918.87 279.61L919.10 279.61L919.34 279.61L919.57 279.61L919.80 279.61L920.04 279.61L920.27 279.61L920.51 279.61L920.74 279.61L920.98 279.61L921.21 279.61L921.44 279.61L921.68 279.61L921.91 279.61L922.15 279.61L922.38 279.61L922.62 279.61L922.85 279.61L923.08 279.61L923.32 279.61L923.55 279.61L923.79 279.61L924.02 279.61L924.26 279.61L924.49 279.61L924.73 279.61L924.96 279.60L925.19 279.60L925.43 279.60L925.66 279.60L925.90 279.60L926.13 279.60L926.37 279.60L926.60 279.60L926.83 279.60L927.07 279.60L927.30 279.60L927.54 279.60L927.77 279.60L928.01 279.60L928.24 279.60L928.47 279.60L928.71 279.60L928.94 279.59L929.18 279.59L929.41 279.59L929.65 279.59L929.88 279.59L930.11 279.59L930.35 279.59L930.58 279.59L930.82 279.59L931.05 279.59L931.29 279.59L931.52 279.59L931.76 279.58L931.99 279.58L932.22 279.58L932.46 279.58L932.69 279.58L932.93 279.58L933.16 279.58L933.40 279.58L933.63 279.58L933.86 279.57L934.10 279.57L934.33 279.57L934.57 279.57L934.80 279.57L935.04 279.57L935.27 279.57L935.50 279.57L935.74 279.56L935.97 279.56L936.21 279.56L936.44 279.56L936.68 279.56L936.91 279.56L937.15 279.56L937.38 279.55L937.61 279.55L937.85 279.55L938.08 279.55L938.32 279.55L938.55 279.55L938.79 279.55L939.02 279.54L939.25 279.54L939.49 279.54L939.72 279.54L939.96 279.54L940.19 279.53L940.43 279.53L940.66 279.53L940.89 279.53L941.13 279.53L941.36 279.53L941.60 279.52L941.83 279.52L942.07 279.52L942.30 279.52L942.53 279.52L942.77 279.51L943.00 279.51L943.24 279.51L943.47 279.51L943.71 279.51L943.94 279.50L944.18 279.50L944.41 279.50L944.64 279.50L944.88 279.49L945.11 279.49L945.35 279.49L945.58 279.49L945.82 279.48L946.05 279.48L946.28 279.48L946.52 279.48L946.75 279.47L946.99 279.47L947.22 279.47L947.46 279.47L947.69 279.46L947.92 279.46L948.16 279.46L948.39 279.46L948.63 279.45L948.86 279.45L949.10 279.45L949.33 279.45L949.57 279.44L949.80 279.44L950.03 279.44L950.27 279.43L950.50 279.43L950.74 279.43L950.97 279.42L951.21 279.42L951.44 279.42L951.67 279.42L951.91 279.41L952.14 279.41L952.38 279.41L952.61 279.40L952.85 279.40L953.08 279.40L953.31 279.39L953.55 279.39L953.78 279.39L954.02 279.38L954.25 279.38L954.49 279.38L954.72 279.37L954.95 279.37L955.19 279.36L955.42 279.36L955.66 279.36L955.89 279.35L956.13 279.35L956.36 279.35L956.60 279.34L956.83 279.34L957.06 279.33L957.30 279.33L957.53 279.33L957.77 279.32L958.00 279.32L958.24 279.31L958.47 279.31L958.70 279.31L958.94 279.30L959.17 279.30L959.41 279.29L959.64 279.29L959.88 279.29L960.11 279.28L960.34 279.28L960.58 279.27L960.81 279.27L961.05 279.26L961.28 279.26L961.52 279.25L961.75 279.25L961.99 279.25L962.22 279.24L962.45 279.24L962.69 279.23L962.92 279.23L963.16 279.22L963.39 279.22L963.63 279.21L963.86 279.21L964.09 279.20L964.33 279.20L964.56 279.19L964.80 279.19L965.03 279.18L965.27 279.18L965.50 279.17L965.73 279.17L965.97 279.16L966.20 279.16L966.44 279.15L966.67 279.15L966.91 279.14L967.14 279.14L967.37 279.13L967.61 279.12L967.84 279.12L968.08 279.11L968.31 279.11L968.55 279.10L968.78 279.10L969.02 279.09L969.25 279.08L969.48 279.08L969.72 279.07L969.95 279.07L970.19 279.06L970.42 279.06L970.66 279.05L970.89 279.04L971.12 279.04L971.36 279.03L971.59 279.02L971.83 279.02L972.06 279.01L972.30 279.01L972.53 279.00L972.76 278.99L973.00 278.99L973.23 278.98L973.47 278.97L973.70 278.97L973.94 278.96L974.17 278.95L974.40 278.95L974.64 278.94L974.87 278.93L975.11 278.93L975.34 278.92L975.58 278.91L975.81 278.91L976.05 278.90L976.28 278.89L976.51 278.89L976.75 278.88L976.98 278.87L977.22 278.86L977.45 278.86L977.69 278.85L977.92 278.84L978.15 278.83L978.39 278.83L978.62 278.82L978.86 278.81L979.09 278.80L979.33 278.80L979.56 278.79L979.79 278.78L980.03 278.77L980.26 278.77L980.50 278.76L980.73 278.75L980.97 278.74L981.20 278.73L981.44 278.73L981.67 278.72L981.90 278.71L982.14 278.70L982.37 278.69L982.61 278.69L982.84 278.68L983.08 278.67L983.31 278.66L983.54 278.65L983.78 278.64L984.01 278.64L984.25 278.63L984.48 278.62L984.72 278.61L984.95 278.60L985.18 278.59L985.42 278.58L985.65 278.57L985.89 278.57L986.12 278.56L986.36 278.55L986.59 278.54L986.82 278.53L987.06 278.52L987.29 278.51L987.47 278.50L987.53 278.50L987.76 278.49L988.00 278.47L988.23 278.45L988.47 278.43L988.70 278.40L988.93 278.37L989.17 278.33L989.40 278.29L989.64 278.25L989.87 278.20L990.11 278.15L990.34 278.09L990.57 278.04L990.81 277.98L991.04 277.91L991.28 277.84L991.51 277.77L991.75 277.69L991.98 277.62L992.21 277.53L992.45 277.45L992.68 277.36L992.92 277.27L993.15 277.18L993.39 277.08L993.51 277.03L993.62 276.98L993.86 276.87L994.09 276.75L994.32 276.62L994.56 276.47L994.79 276.30L995.03 276.09L995.26 275.86L995.50 275.59L995.73 275.28L995.96 274.92L996.20 274.52L996.43 274.06L996.60 273.70L996.67 273.49L996.90 271.85L997.14 268.97L997.37 265.05L997.60 260.27L997.84 254.83L998.07 248.93L998.14 247.12L998.31 240.95L998.54 227.20L998.78 210.05L999.01 192.23L999.24 176.46L999.48 165.46L999.69 161.89L999.71 161.96L999.95 167.43L1000.18 179.76L1000.42 196.25L1000.65 214.16L1000.89 230.77L1001.12 243.35L1001.23 247.12L1001.35 250.32L1001.59 256.13L1001.82 261.44L1002.06 266.03L1002.29 269.73L1002.53 272.34L1002.76 273.67L1002.77 273.70L1002.99 274.17L1003.23 274.62L1003.46 275.02L1003.70 275.37L1003.93 275.67L1004.17 275.94L1004.40 276.17L1004.63 276.37L1004.87 276.54L1005.10 276.68L1005.34 276.81L1005.57 276.91L1005.81 277.01L1005.86 277.03L1006.04 277.09L1006.28 277.17L1006.51 277.25L1006.74 277.33L1006.98 277.40L1007.21 277.47L1007.45 277.54L1007.68 277.61L1007.92 277.67L1008.15 277.74L1008.38 277.80L1008.62 277.85L1008.85 277.91L1009.09 277.96L1009.32 278.01L1009.56 278.06L1009.79 278.11L1010.02 278.15L1010.26 278.19L1010.49 278.23L1010.73 278.27L1010.96 278.30L1011.20 278.33L1011.43 278.36L1011.66 278.39L1011.90 278.41L1012.13 278.43L1012.37 278.45L1012.60 278.46L1012.84 278.48L1013.07 278.49L1013.31 278.50L1013.54 278.50L1013.70 278.50L1013.77 278.50L1014.01 278.51L1014.24 278.51L1014.48 278.51L1014.71 278.51L1014.95 278.52L1015.18 278.52L1015.41 278.52L1015.65 278.52L1015.88 278.52L1016.12 278.53L1016.35 278.53L1016.59 278.53L1016.82 278.53L1017.05 278.53L1017.29 278.54L1017.52 278.54L1017.76 278.54L1017.99 278.54L1018.23 278.54L1018.46 278.55L1018.69 278.55L1018.93 278.55L1019.16 278.55L1019.40 278.55L1019.63 278.56L1019.87 278.56L1020.10 278.56L1020.34 278.56L1020.57 278.56L1020.80 278.57L1021.04 278.57L1021.27 278.57L1021.51 278.57L1021.74 278.57L1021.98 278.57L1022.21 278.58L1022.44 278.58L1022.68 278.58L1022.91 278.58L1023.15 278.58L1023.38 278.58L1023.62 278.59L1023.85 278.59L1024.08 278.59L1024.32 278.59L1024.55 278.59L1024.79 278.59L1025.02 278.60L1025.26 278.60L1025.49 278.60L1025.73 278.60L1025.96 278.60L1026.19 278.60L1026.43 278.61L1026.66 278.61L1026.90 278.61L1027.13 278.61L1027.37 278.61L1027.60 278.61L1027.83 278.61L1028.07 278.62L1028.30 278.62L1028.54 278.62L1028.77 278.62L1029.01 278.62L1029.24 278.62L1029.47 278.62L1029.71 278.62L1029.94 278.63L1030.18 278.63L1030.41 278.63L1030.65 278.63L1030.88 278.63L1031.11 278.63L1031.35 278.63L1031.58 278.64L1031.82 278.64L1032.05 278.64L1032.29 278.64L1032.52 278.64L1032.76 278.64L1032.99 278.64L1033.22 278.64L1033.46 278.65L1033.69 278.65L1033.93 278.65L1034.16 278.65L1034.40 278.65L1034.63 278.65L1034.86 278.65L1035.10 278.65L1035.33 278.65L1035.57 278.66L1035.80 278.66L1036.04 278.66L1036.27 278.66L1036.50 278.66L1036.74 278.66L1036.97 278.66L1037.21 278.66L1037.44 278.66L1037.68 278.66L1037.91 278.67L1038.15 278.67L1038.38 278.67L1038.61 278.67L1038.85 278.67L1039.08 278.67L1039.32 278.67L1039.55 278.67L1039.79 278.67L1040.02 278.67L1040.25 278.67L1040.49 278.68L1040.72 278.68L1040.96 278.68L1041.19 278.68L1041.43 278.68L1041.66 278.68L1041.89 278.68L1042.13 278.68L1042.36 278.68L1042.60 278.68L1042.83 278.68L1043.07 278.68L1043.30 278.68L1043.53 278.69L1043.77 278.69L1044.00 278.69L1044.24 278.69L1044.47 278.69L1044.71 278.69L1044.94 278.69L1045.18 278.69L1045.41 278.69L1045.64 278.69L1045.88 278.69L1046.11 278.69L1046.35 278.69L1046.58 278.69L1046.82 278.70L1047.05 278.70L1047.28 278.70L1047.52 278.70L1047.75 278.70L1047.99 278.70L1048.22 278.70L1048.46 278.70L1048.69 278.70L1048.92 278.70L1049.16 278.70L1049.39 278.70L1049.63 278.70L1049.86 278.70L1050.10 278.70L1050.33 278.70L1050.57 278.70L1050.80 278.70L1051.03 278.71L1051.27 278.71L1051.50 278.71L1051.74 278.71L1051.97 278.71L1052.21 278.71L1052.44 278.71L1052.67 278.71L1052.91 278.71L1053.14 278.71L1053.38 278.71L1053.61 278.71L1053.85 278.71L1054.08 278.71L1054.31 278.71L1054.55 278.71L1054.78 278.71L1055.02 278.71L1055.25 278.71L1055.49 278.71L1055.72 278.71L1055.95 278.71L1056.19 278.71L1056.42 278.71L1056.66 278.71L1056.89 278.72L1057.13 278.72L1057.36 278.72L1057.60 278.72L1057.83 278.72L1058.06 278.72L1058.30 278.72L1058.53 278.72L1058.77 278.72L1059.00 278.72L1059.24 278.72L1059.47 278.72L1059.70 278.72L1059.94 278.72L1060.17 278.72L1060.41 278.72L1060.64 278.72L1060.88 278.72L1061.11 278.72L1061.34 278.72L1061.58 278.72L1061.81 278.72L1062.05 278.72L1062.28 278.72L1062.52 278.72L1062.75 278.72L1062.99 278.72L1063.22 278.72L1063.45 278.72L1063.69 278.72L1063.92 278.72L1064.16 278.72L1064.39 278.72L1064.63 278.72L1064.86 278.72L1065.09 278.72L1065.33 278.72L1065.56 278.72L1065.80 278.72L1066.03 278.72L1066.27 278.72L1066.50 278.72L1066.73 278.72L1066.97 278.72L1067.20 278.72L1067.44 278.72L1067.67 278.72L1067.91 278.72L1068.14 278.72L1068.37 278.72L1068.61 278.72L1068.84 278.72L1069.08 278.72L1069.31 278.72L1069.55 278.72L1069.78 278.72L1070.02 278.72L1070.25 278.72L1070.48 278.72L1070.72 278.73L1070.95 278.73L1071.19 278.73L1071.42 278.73L1071.66 278.73L1071.89 278.73L1072.12 278.73L1072.36 278.73L1072.59 278.73L1072.83 278.73L1073.06 278.73L1073.30 278.73L1073.53 278.73L1073.76 278.73L1073.97 278.73L1074.00 278.72L1074.23 278.43L1074.47 277.72L1074.70 276.68L1074.94 275.38L1075.17 273.89L1075.40 272.30L1075.64 270.67L1075.87 269.09L1076.11 267.62L1076.34 266.35L1076.58 265.35L1076.81 264.70L1077.04 264.47L1077.05 264.47L1077.28 264.71L1077.51 265.38L1077.75 266.38L1077.98 267.66L1078.22 269.13L1078.45 270.71L1078.69 272.34L1078.92 273.93L1079.15 275.41L1079.39 276.71L1079.62 277.74L1079.86 278.44L1080.09 278.72L1080.12 278.73L1080.33 278.73L1080.56 278.73L1080.79 278.73L1081.03 278.73L1081.26 278.73L1081.50 278.73L1081.73 278.73L1081.97 278.72L1082.20 278.72L1082.44 278.72L1082.67 278.72L1082.90 278.72L1083.14 278.72L1083.37 278.72L1083.61 278.72L1083.84 278.72L1084.08 278.72L1084.31 278.72L1084.54 278.72L1084.78 278.72L1085.01 278.72L1085.25 278.72L1085.48 278.72L1085.72 278.72L1085.95 278.72L1086.18 278.72L1086.42 278.72L1086.65 278.72L1086.89 278.72L1087.12 278.72L1087.36 278.72L1087.59 278.72L1087.82 278.72L1088.06 278.72L1088.29 278.72L1088.53 278.72L1088.76 278.72L1089.00 278.71L1089.23 278.71L1089.47 278.71L1089.70 278.71L1089.93 278.71L1090.17 278.71L1090.40 278.71L1090.64 278.71L1090.87 278.71L1091.11 278.71L1091.34 278.71L1091.57 278.71L1091.81 278.71L1092.04 278.71L1092.28 278.70L1092.51 278.70L1092.75 278.70L1092.98 278.70L1093.21 278.70L1093.45 278.70L1093.68 278.70L1093.92 278.70L1094.15 278.70L1094.39 278.69L1094.62 278.69L1094.86 278.69L1095.09 278.69L1095.32 278.69L1095.56 278.69L1095.79 278.69L1096.03 278.69L1096.26 278.68L1096.50 278.68L1096.73 278.68L1096.96 278.68L1097.20 278.68L1097.43 278.68L1097.67 278.68L1097.90 278.67L1098.14 278.67L1098.37 278.67L1098.60 278.67L1098.84 278.67L1099.07 278.67L1099.31 278.66L1099.54 278.66L1099.78 278.66L1100.01 278.66L1100.24 278.66L1100.48 278.66L1100.71 278.65L1100.95 278.65L1101.18 278.65L1101.42 278.65L1101.65 278.65L1101.89 278.64L1102.12 278.64L1102.35 278.64L1102.59 278.64L1102.82 278.64L1103.06 278.63L1103.29 278.63L1103.53 278.63L1103.76 278.63L1103.99 278.62L1104.23 278.62L1104.46 278.62L1104.70 278.62L1104.93 278.61L1105.17 278.61L1105.40 278.61L1105.63 278.61L1105.87 278.60L1106.10 278.60L1106.34 278.60L1106.57 278.59L1106.81 278.59L1107.04 278.59L1107.28 278.59L1107.51 278.58L1107.74 278.58L1107.98 278.58L1108.21 278.57L1108.45 278.57L1108.68 278.57L1108.92 278.56L1109.15 278.56L1109.38 278.56L1109.62 278.55L1109.85 278.55L1110.09 278.55L1110.32 278.54L1110.56 278.54L1110.79 278.54L1111.02 278.53L1111.26 278.53L1111.49 278.53L1111.73 278.52L1111.96 278.52L1112.20 278.52L1112.43 278.51L1112.66 278.51L1112.90 278.50L1113.13 278.50L1113.37 278.50L1113.60 278.49L1113.84 278.49L1114.07 278.48L1114.31 278.48L1114.54 278.48L1114.77 278.47L1115.01 278.47L1115.24 278.46L1115.48 278.46L1115.71 278.45L1115.95 278.45L1116.18 278.44L1116.41 278.44L1116.65 278.43L1116.88 278.43L1117.12 278.43L1117.35 278.42L1117.59 278.42L1117.82 278.41L1118.05 278.41L1118.29 278.40L1118.52 278.40L1118.76 278.39L1118.99 278.39L1119.23 278.38L1119.46 278.38L1119.69 278.37L1119.93 278.36L1120.16 278.36L1120.40 278.35L1120.63 278.35L1120.87 278.34L1121.10 278.34L1121.34 278.33L1121.57 278.33L1121.80 278.32L1122.04 278.31L1122.27 278.31L1122.51 278.30L1122.74 278.30L1122.98 278.29L1123.21 278.28L1123.44 278.28L1123.68 278.27L1123.91 278.27L1124.15 278.26L1124.38 278.25L1124.62 278.25L1124.85 278.24L1125.08 278.23L1125.32 278.23L1125.55 278.22L1125.79 278.21L1126.02 278.21L1126.26 278.20L1126.49 278.19L1126.73 278.19L1126.96 278.18L1127.19 278.17L1127.43 278.16L1127.66 278.16L1127.90 278.15L1128.13 278.14L1128.37 278.14L1128.39 278.13L1128.60 278.12L1128.83 278.11L1129.07 278.08L1129.30 278.05L1129.54 278.01L1129.77 277.96L1130.01 277.91L1130.24 277.85L1130.47 277.78L1130.71 277.71L1130.94 277.63L1131.18 277.54L1131.41 277.45L1131.65 277.35L1131.88 277.25L1132.11 277.14L1132.35 277.02L1132.58 276.90L1132.82 276.77L1133.02 276.66L1133.05 276.64L1133.29 276.49L1133.52 276.31L1133.76 276.10L1133.99 275.85L1134.22 275.55L1134.46 275.20L1134.69 274.79L1134.93 274.32L1135.16 273.77L1135.40 273.16L1135.63 272.46L1135.86 271.67L1136.10 270.79L1136.11 270.75L1136.33 268.36L1136.57 263.16L1136.80 256.00L1137.04 247.67L1137.27 238.96L1137.50 230.66L1137.64 226.44L1137.74 223.20L1137.97 214.51L1138.21 204.95L1138.44 195.57L1138.68 187.39L1138.91 181.45L1139.15 178.79L1139.18 178.73L1139.38 180.22L1139.61 185.25L1139.85 192.85L1140.08 201.97L1140.32 211.59L1140.55 220.65L1140.73 226.44L1140.79 228.26L1141.02 236.22L1141.25 244.83L1141.49 253.33L1141.72 260.92L1141.96 266.83L1142.19 270.28L1142.27 270.75L1142.43 271.28L1142.66 271.99L1142.89 272.63L1143.13 273.19L1143.36 273.68L1143.60 274.11L1143.83 274.48L1144.07 274.79L1144.30 275.07L1144.53 275.30L1144.77 275.51L1145.00 275.68L1145.24 275.84L1145.36 275.92L1145.47 275.99L1145.71 276.13L1145.94 276.26L1146.18 276.39L1146.41 276.52L1146.64 276.63L1146.88 276.74L1147.11 276.84L1147.35 276.94L1147.58 277.02L1147.82 277.10L1148.05 277.17L1148.28 277.23L1148.52 277.29L1148.75 277.33L1148.99 277.36L1149.22 277.39L1149.38 277.40L1149.46 277.40L1149.69 277.41L1149.92 277.42L1150.16 277.43L1150.39 277.44L1150.63 277.45L1150.86 277.46L1151.10 277.47L1151.33 277.48L1151.57 277.49L1151.80 277.50L1152.03 277.51L1152.27 277.52L1152.50 277.53L1152.74 277.54L1152.97 277.54L1153.21 277.55L1153.44 277.56L1153.67 277.57L1153.91 277.58L1154.14 277.58L1154.38 277.59L1154.61 277.60L1154.85 277.60L1155.08 277.61L1155.31 277.62L1155.55 277.62L1155.78 277.63L1156.02 277.64L1156.25 277.64L1156.49 277.65L1156.72 277.65L1156.95 277.66L1157.19 277.66L1157.42 277.67L1157.66 277.67L1157.89 277.68L1158.13 277.68L1158.36 277.69L1158.60 277.69L1158.83 277.70L1159.06 277.70L1159.30 277.70L1159.53 277.71L1159.77 277.71L1160.00 277.72L1160.24 277.72L1160.47 277.72L1160.70 277.73L1160.94 277.73L1161.17 277.73L1161.41 277.73L1161.64 277.74L1161.88 277.74L1162.11 277.74L1162.34 277.74L1162.58 277.75L1162.81 277.75L1163.05 277.75L1163.28 277.75L1163.52 277.75L1163.75 277.75L1163.98 277.76L1164.22 277.76L1164.45 277.76L1164.69 277.76L1164.92 277.76L1165.16 277.76L1165.39 277.76L1165.63 277.76L1165.86 277.76L1166.09 277.76L1166.33 277.76L1166.56 277.76L1166.80 277.77L1167.03 277.77L1167.27 277.77L1167.37 277.77L1167.50 277.76L1167.73 277.76L1167.97 277.75L1168.20 277.73L1168.44 277.71L1168.67 277.68L1168.91 277.65L1169.14 277.62L1169.37 277.58L1169.61 277.53L1169.84 277.49L1170.08 277.43L1170.31 277.38L1170.55 277.32L1170.78 277.25L1171.02 277.19L1171.25 277.12L1171.48 277.04L1171.53 277.03L1171.72 276.96L1171.95 276.85L1172.19 276.71L1172.42 276.53L1172.66 276.32L1172.89 276.08L1173.12 275.80L1173.36 275.48L1173.59 275.11L1173.83 274.71L1174.06 274.25L1174.30 273.75L1174.53 273.19L1174.62 272.96L1174.76 272.46L1175.00 271.06L1175.23 269.05L1175.47 266.50L1175.70 263.53L1175.94 260.21L1176.17 256.72L1176.17 256.64L1176.40 251.05L1176.64 242.72L1176.87 233.11L1177.11 223.65L1177.34 215.80L1177.58 211.01L1177.71 210.19L1177.81 210.67L1178.05 214.94L1178.28 222.46L1178.51 231.78L1178.75 241.45L1178.98 250.04L1179.22 256.09L1179.25 256.72L1179.45 259.73L1179.69 263.09L1179.92 266.12L1180.15 268.73L1180.39 270.82L1180.62 272.31L1180.80 272.96L1180.86 273.12L1181.09 273.68L1181.33 274.20L1181.56 274.66L1181.79 275.08L1182.03 275.45L1182.26 275.78L1182.50 276.07L1182.73 276.32L1182.97 276.53L1183.20 276.71L1183.44 276.85L1183.67 276.96L1183.86 277.03L1183.90 277.04L1184.14 277.11L1184.37 277.18L1184.61 277.24L1184.84 277.30L1185.08 277.36L1185.31 277.42L1185.54 277.47L1185.78 277.53L1186.01 277.58L1186.25 277.63L1186.48 277.67L1186.72 277.72L1186.95 277.76L1187.18 277.80L1187.42 277.83L1187.65 277.87L1187.89 277.90L1188.12 277.93L1188.36 277.96L1188.59 277.99L1188.82 278.01L1189.06 278.03L1189.29 278.05L1189.53 278.07L1189.76 278.09L1190.00 278.10L1190.23 278.11L1190.47 278.12L1190.70 278.13L1190.93 278.13L1191.17 278.13L1191.35 278.13L1191.40 278.13L1191.64 278.13L1191.87 278.13L1192.11 278.13L1192.34 278.13L1192.57 278.13L1192.81 278.13L1193.04 278.13L1193.28 278.13L1193.51 278.13L1193.75 278.13L1193.98 278.13L1194.21 278.13L1194.45 278.13L1194.68 278.13L1194.92 278.13L1195.15 278.13L1195.39 278.13L1195.62 278.13L1195.86 278.13L1196.09 278.13L1196.32 278.13L1196.56 278.13L1196.79 278.13L1197.03 278.13L1197.26 278.13L1197.50 278.13L1197.73 278.13L1197.96 278.13L1198.20 278.13L1198.43 278.13L1198.67 278.13L1198.90 278.13L1199.14 278.13L1199.37 278.13L1199.60 278.13L1199.84 278.13L1200.07 278.13L1200.31 278.13L1200.54 278.13L1200.78 278.13L1201.01 278.13L1201.24 278.13L1201.48 278.13L1201.71 278.13L1201.95 278.13L1202.18 278.13L1202.42 278.13L1202.65 278.13L1202.89 278.13L1203.12 278.13L1203.35 278.13L1203.59 278.13L1203.82 278.13L1204.06 278.13L1204.29 278.13L1204.53 278.13L1204.76 278.13L1204.99 278.13L1205.22 278.13L1205.23 278.13L1205.46 278.03L1205.70 277.76L1205.93 277.35L1206.17 276.83L1206.40 276.24L1206.63 275.59L1206.87 274.94L1207.10 274.29L1207.34 273.70L1207.57 273.18L1207.81 272.76L1208.04 272.48L1208.28 272.37L1208.29 272.37L1208.51 272.46L1208.74 272.71L1208.98 273.11L1209.21 273.61L1209.45 274.20L1209.68 274.84L1209.92 275.50L1210.15 276.14L1210.38 276.75L1210.62 277.28L1210.85 277.71L1211.09 278.00L1211.32 278.13L1211.37 278.13L1211.56 278.13L1211.79 278.13L1212.02 278.13L1212.26 278.13L1212.49 278.13L1212.73 278.13L1212.96 278.13L1213.20 278.13L1213.43 278.13L1213.66 278.13L1213.90 278.13L1214.13 278.13L1214.37 278.13L1214.60 278.13L1214.84 278.13L1215.07 278.13L1215.31 278.13L1215.54 278.13L1215.77 278.13L1216.01 278.13L1216.24 278.13L1216.48 278.13L1216.71 278.13L1216.95 278.13L1217.18 278.13L1217.41 278.13L1217.65 278.13L1217.88 278.13L1218.12 278.13L1218.35 278.13L1218.59 278.13L1218.82 278.13L1219.05 278.13L1219.29 278.13L1219.52 278.13L1219.76 278.13L1219.99 278.13L1220.23 278.13L1220.46 278.13L1220.69 278.13L1220.93 278.13L1221.16 278.13L1221.40 278.13L1221.63 278.13L1221.87 278.13L1222.10 278.13L1222.34 278.13L1222.57 278.13L1222.80 278.13L1223.04 278.13L1223.27 278.13L1223.51 278.13L1223.74 278.13L1223.98 278.13L1224.21 278.13L1224.44 278.13L1224.68 278.13L1224.91 278.13L1225.15 278.13L1225.38 278.13L1225.62 278.13L1225.85 278.13L1226.08 278.13L1226.32 278.13L1226.55 278.13L1226.79 278.13L1227.02 278.13L1227.26 278.13L1227.49 278.13L1227.73 278.13L1227.96 278.13L1228.19 278.13L1228.43 278.13L1228.66 278.13L1228.90 278.13L1229.13 278.13L1229.37 278.13L1229.60 278.13L1229.83 278.13L1230.07 278.13L1230.30 278.13L1230.54 278.13L1230.77 278.13L1231.01 278.13L1231.24 278.13L1231.47 278.13L1231.71 278.13L1231.94 278.13L1232.18 278.13L1232.41 278.13L1232.65 278.13L1232.88 278.13L1233.11 278.13L1233.35 278.13L1233.58 278.13L1233.82 278.13L1234.05 278.13L1234.29 278.13L1234.52 278.13L1234.76 278.13L1234.99 278.13L1235.22 278.13L1235.46 278.13L1235.69 278.13L1235.93 278.13L1236.16 278.13L1236.40 278.13L1236.63 278.13L1236.86 278.13L1237.10 278.13L1237.33 278.13L1237.57 278.13L1237.80 278.13L1238.04 278.13L1238.27 278.13L1238.50 278.13L1238.74 278.13L1238.97 278.13L1239.21 278.13L1239.44 278.13L1239.68 278.13L1239.91 278.13L1240.15 278.13L1240.38 278.13L1240.61 278.13L1240.85 278.13L1241.08 278.13L1241.32 278.13L1241.55 278.13L1241.79 278.13L1242.02 278.13L1242.25 278.13L1242.49 278.13L1242.72 278.13L1242.96 278.13L1243.19 278.13L1243.43 278.13L1243.66 278.13L1243.89 278.13L1244.13 278.13L1244.36 278.13L1244.60 278.13L1244.83 278.13L1245.07 278.13L1245.30 278.13L1245.53 278.13L1245.77 278.13L1246.00 278.13L1246.24 278.13L1246.47 278.13L1246.71 278.13L1246.94 278.13L1247.18 278.13L1247.41 278.13L1247.64 278.13L1247.88 278.13L1248.11 278.13L1248.35 278.13L1248.58 278.13L1248.82 278.13L1249.05 278.13L1249.28 278.13L1249.52 278.13L1249.75 278.13L1249.99 278.13L1250.22 278.13L1250.46 278.13L1250.69 278.13L1250.92 278.13L1251.16 278.13L1251.39 278.13L1251.63 278.13L1251.86 278.13L1252.10 278.13L1252.33 278.13L1252.57 278.13L1252.80 278.13L1253.03 278.13L1253.27 278.13L1253.50 278.13L1253.74 278.13L1253.97 278.13L1254.21 278.13L1254.44 278.13L1254.67 278.13L1254.91 278.13L1255.14 278.13L1255.38 278.13L1255.61 278.13L1255.85 278.13L1256.08 278.13L1256.31 278.13L1256.55 278.13L1256.78 278.13L1257.02 278.13L1257.25 278.13L1257.49 278.13L1257.72 278.13L1257.95 278.13L1258.19 278.13L1258.42 278.13L1258.66 278.13L1258.89 278.13L1259.13 278.13L1259.36 278.13L1259.60 278.13L1259.83 278.13L1260.06 278.13L1260.30 278.13L1260.53 278.13L1260.77 278.13L1261.00 278.13L1261.24 278.13L1261.47 278.13L1261.70 278.13L1261.94 278.13L1262.17 278.13L1262.41 278.13L1262.64 278.13L1262.88 278.13L1263.11 278.13L1263.34 278.13L1263.58 278.13L1263.81 278.13L1264.05 278.13L1264.28 278.13L1264.52 278.13L1264.75 278.13L1264.98 278.13L1265.22 278.13L1265.45 278.13L1265.69 278.13L1265.92 278.13L1266.16 278.13L1266.39 278.13L1266.63 278.13L1266.86 278.13L1267.09 278.13L1267.33 278.13L1267.56 278.13L1267.80 278.13L1268.03 278.13L1268.27 278.13L1268.50 278.13L1268.73 278.13L1268.97 278.13L1269.20 278.13L1269.44 278.13L1269.67 278.13L1269.91 278.13L1270.14 278.13L1270.37 278.13L1270.61 278.13L1270.84 278.13L1271.08 278.13L1271.31 278.13L1271.55 278.13L1271.78 278.13L1272.02 278.13L1272.25 278.13L1272.48 278.13L1272.72 278.13L1272.95 278.13L1273.19 278.13L1273.42 278.13L1273.66 278.13L1273.89 278.13L1274.12 278.13L1274.36 278.13L1274.59 278.13L1274.83 278.13L1275.06 278.13L1275.30 278.13L1275.53 278.13L1275.76 278.13L1276.00 278.13L1276.23 278.13L1276.47 278.13L1276.70 278.13L1276.94 278.13L1277.17 278.13L1277.40 278.13L1277.64 278.13L1277.87 278.13L1278.11 278.13L1278.34 278.13L1278.58 278.13L1278.81 278.13L1279.05 278.13L1279.28 278.13L1279.51 278.13L1279.75 278.13L1279.98 278.13L1280.22 278.13L1280.45 278.13L1280.69 278.13L1280.92 278.13L1281.15 278.13L1281.39 278.13L1281.62 278.13L1281.86 278.13L1282.09 278.13L1282.33 278.13L1282.56 278.13L1282.79 278.13L1283.03 278.13L1283.26 278.13L1283.50 278.13L1283.55 278.13L1283.73 278.13L1283.97 278.13L1284.20 278.12L1284.44 278.11L1284.67 278.10L1284.90 278.08L1285.14 278.06L1285.37 278.03L1285.61 278.01L1285.84 277.98L1286.08 277.94L1286.31 277.91L1286.54 277.87L1286.78 277.83L1287.01 277.79L1287.12 277.77L1287.25 277.73L1287.48 277.64L1287.72 277.50L1287.95 277.32L1288.18 277.10L1288.42 276.84L1288.65 276.54L1288.89 276.20L1289.12 275.83L1289.36 275.43L1289.59 274.99L1289.82 274.52L1290.06 274.03L1290.21 273.70L1290.29 273.48L1290.53 272.68L1290.76 271.61L1291.00 270.34L1291.23 268.93L1291.47 267.43L1291.70 265.90L1291.75 265.58L1291.93 264.15L1292.17 261.81L1292.40 259.20L1292.64 256.64L1292.87 254.49L1293.11 253.05L1293.29 252.66L1293.34 252.68L1293.57 253.51L1293.81 255.27L1294.04 257.62L1294.28 260.24L1294.51 262.78L1294.75 264.92L1294.84 265.58L1294.98 266.51L1295.21 268.04L1295.45 269.53L1295.68 270.90L1295.92 272.10L1296.15 273.06L1296.38 273.70L1296.39 273.71L1296.62 274.19L1296.86 274.62L1297.09 275.03L1297.32 275.40L1297.56 275.74L1297.79 276.05L1298.03 276.33L1298.26 276.58L1298.50 276.79L1298.73 276.98L1298.96 277.14L1299.20 277.28L1299.43 277.38L1299.47 277.40L1299.67 277.47L1299.90 277.55L1300.14 277.64L1300.37 277.72L1300.60 277.80L1300.84 277.87L1301.07 277.94L1301.31 278.01L1301.54 278.08L1301.78 278.14L1302.01 278.20L1302.24 278.26L1302.48 278.31L1302.71 278.36L1302.95 278.41L1303.18 278.46L1303.42 278.50L1303.65 278.54L1303.89 278.57L1304.12 278.60L1304.35 278.63L1304.59 278.65L1304.82 278.68L1305.06 278.69L1305.29 278.71L1305.53 278.72L1305.76 278.72L1305.99 278.73L1306.04 278.73L1306.23 278.73L1306.46 278.73L1306.70 278.73L1306.93 278.73L1307.17 278.73L1307.40 278.73L1307.63 278.73L1307.87 278.73L1308.10 278.73L1308.34 278.73L1308.57 278.73L1308.81 278.73L1309.04 278.73L1309.27 278.73L1309.51 278.73L1309.74 278.73L1309.98 278.73L1310.21 278.73L1310.45 278.73L1310.68 278.73L1310.92 278.73L1311.15 278.73L1311.38 278.73L1311.62 278.73L1311.85 278.73L1312.09 278.73L1312.32 278.73L1312.56 278.73L1312.79 278.73L1313.02 278.73L1313.26 278.73L1313.49 278.73L1313.73 278.73L1313.96 278.73L1314.20 278.73L1314.43 278.73L1314.66 278.73L1314.90 278.73L1315.13 278.73L1315.37 278.73L1315.60 278.73L1315.84 278.73L1316.07 278.73L1316.31 278.73L1316.54 278.73L1316.77 278.73L1317.01 278.73L1317.24 278.73L1317.48 278.73L1317.71 278.73L1317.95 278.73L1318.18 278.73L1318.41 278.73L1318.65 278.73L1318.88 278.73L1319.12 278.73L1319.35 278.73L1319.59 278.73L1319.82 278.73L1320.05 278.73L1320.29 278.73L1320.52 278.73L1320.76 278.73L1320.99 278.73L1321.23 278.73L1321.46 278.73L1321.69 278.73L1321.93 278.73L1322.16 278.73L1322.40 278.73L1322.63 278.73L1322.87 278.73L1323.10 278.73L1323.34 278.73L1323.57 278.73L1323.80 278.73L1324.04 278.73L1324.27 278.73L1324.51 278.73L1324.74 278.73L1324.98 278.73L1325.21 278.73L1325.44 278.73L1325.68 278.73L1325.91 278.73L1326.15 278.73L1326.38 278.73L1326.62 278.73L1326.85 278.73L1327.08 278.73L1327.32 278.73L1327.55 278.73L1327.79 278.73L1328.02 278.73L1328.26 278.73L1328.49 278.73L1328.52 278.73L1328.73 278.72L1328.96 278.72L1329.19 278.72L1329.43 278.72L1329.66 278.71L1329.90 278.71L1330.13 278.70L1330.37 278.69L1330.60 278.68L1330.83 278.67L1331.07 278.66L1331.30 278.65L1331.54 278.64L1331.77 278.63L1332.01 278.61L1332.24 278.60L1332.47 278.59L1332.71 278.57L1332.94 278.56L1333.18 278.54L1333.41 278.53L1333.65 278.51L1333.77 278.50L1333.88 278.50L1334.11 278.48L1334.35 278.46L1334.58 278.44L1334.82 278.42L1335.05 278.40L1335.29 278.37L1335.52 278.34L1335.76 278.31L1335.99 278.28L1336.22 278.24L1336.46 278.20L1336.69 278.15L1336.77 278.13L1336.93 278.09L1337.16 278.00L1337.40 277.88L1337.63 277.73L1337.86 277.56L1338.10 277.37L1338.33 277.17L1338.57 276.96L1338.80 276.74L1339.04 276.53L1339.27 276.32L1339.50 276.12L1339.74 275.94L1339.77 275.92L1339.97 275.77L1340.21 275.60L1340.44 275.43L1340.68 275.27L1340.91 275.10L1341.15 274.94L1341.38 274.77L1341.61 274.60L1341.85 274.43L1342.08 274.25L1342.32 274.07L1342.55 273.88L1342.77 273.70L1342.79 273.69L1343.02 273.50L1343.25 273.31L1343.49 273.14L1343.72 272.96L1343.96 272.78L1344.19 272.58L1344.43 272.38L1344.66 272.16L1344.89 271.92L1345.13 271.65L1345.36 271.35L1345.60 271.01L1345.76 270.75L1345.83 270.63L1346.07 270.16L1346.30 269.55L1346.53 268.81L1346.77 267.93L1347.00 266.90L1347.24 265.72L1347.26 265.58L1347.47 264.09L1347.71 261.72L1347.94 258.78L1348.18 255.46L1348.39 252.29L1348.41 251.95L1348.64 247.94L1348.88 243.29L1349.11 238.14L1349.35 232.64L1349.51 228.65L1349.58 226.91L1349.82 220.51L1350.05 213.48L1350.28 206.13L1350.52 198.73L1350.75 191.58L1350.99 184.97L1351.01 184.34L1351.22 178.17L1351.46 170.74L1351.69 164.17L1351.92 159.98L1352.06 159.24L1352.16 159.66L1352.39 163.48L1352.63 169.92L1352.86 177.33L1353.10 184.02L1353.11 184.34L1353.33 189.89L1353.57 196.02L1353.80 202.13L1354.03 207.93L1354.27 213.12L1354.38 215.36L1354.50 217.47L1354.74 221.32L1354.97 224.81L1355.21 228.07L1355.44 231.21L1355.66 234.12L1355.67 234.33L1355.91 237.45L1356.14 240.49L1356.38 243.43L1356.61 246.27L1356.85 249.00L1357.01 250.81L1357.08 251.62L1357.31 254.35L1357.55 257.13L1357.78 259.80L1358.02 262.20L1358.25 264.15L1358.49 265.50L1358.51 265.58L1358.72 266.38L1358.95 267.14L1359.19 267.80L1359.42 268.34L1359.66 268.79L1359.89 269.14L1360.01 269.27L1360.13 269.40L1360.36 269.64L1360.60 269.85L1360.83 270.05L1361.06 270.23L1361.30 270.38L1361.53 270.51L1361.77 270.62L1362.00 270.69L1362.24 270.75L1362.25 270.75L1362.47 270.78L1362.70 270.81L1362.94 270.84L1363.17 270.87L1363.41 270.90L1363.64 270.92L1363.88 270.94L1364.11 270.96L1364.34 270.98L1364.58 270.99L1364.81 271.01L1365.05 271.02L1365.28 271.03L1365.52 271.03L1365.75 271.04L1365.98 271.04L1366.00 271.04L1366.22 271.05L1366.45 271.05L1366.69 271.05L1366.92 271.06L1367.16 271.06L1367.39 271.06L1367.63 271.07L1367.86 271.07L1368.09 271.07L1368.33 271.07L1368.56 271.08L1368.80 271.08L1369.03 271.08L1369.27 271.08L1369.50 271.09L1369.73 271.09L1369.97 271.09L1370.20 271.09L1370.44 271.09L1370.67 271.10L1370.91 271.10L1371.14 271.10L1371.37 271.10L1371.61 271.10L1371.84 271.10L1372.08 271.10L1372.31 271.11L1372.55 271.11L1372.78 271.11L1373.02 271.11L1373.25 271.11L1373.48 271.11L1373.72 271.11L1373.95 271.11L1374.19 271.11L1374.42 271.11L1374.66 271.12L1374.89 271.12L1375.12 271.12L1375.36 271.12L1375.59 271.12L1375.83 271.12L1376.06 271.12L1376.30 271.12L1376.53 271.12L1376.76 271.12L1377.00 271.12L1377.23 271.12L1377.25 271.12L1377.47 271.11L1377.70 271.09L1377.94 271.04L1378.17 270.98L1378.40 270.91L1378.64 270.82L1378.87 270.72L1379.11 270.60L1379.34 270.47L1379.58 270.33L1379.81 270.18L1380.05 270.02L1380.28 269.85L1380.51 269.67L1380.75 269.48L1380.98 269.28L1380.99 269.27L1381.22 269.05L1381.45 268.74L1381.69 268.35L1381.92 267.90L1382.15 267.37L1382.39 266.78L1382.62 266.13L1382.86 265.41L1383.09 264.64L1383.33 263.80L1383.56 262.92L1383.79 261.98L1383.99 261.15L1384.03 260.98L1384.26 259.75L1384.50 258.20L1384.73 256.38L1384.97 254.32L1385.20 252.07L1385.44 249.68L1385.67 247.18L1385.72 246.67L1385.90 244.45L1386.14 241.25L1386.37 237.67L1386.61 233.86L1386.84 229.92L1387.08 225.97L1387.31 222.14L1387.36 221.27L1387.54 218.14L1387.78 213.38L1388.01 208.45L1388.25 203.95L1388.48 200.50L1388.72 198.72L1388.79 198.60L1388.95 199.22L1389.18 202.04L1389.42 206.51L1389.65 211.96L1389.89 217.72L1390.12 223.11L1390.21 224.96L1390.36 227.86L1390.59 233.07L1390.82 238.58L1391.06 244.06L1391.29 249.19L1391.53 253.64L1391.76 257.10L1391.86 258.19L1392.00 259.45L1392.23 261.46L1392.47 263.24L1392.70 264.77L1392.93 266.07L1393.17 267.12L1393.36 267.80L1393.40 267.92L1393.64 268.58L1393.87 269.16L1394.11 269.67L1394.34 270.12L1394.57 270.52L1394.81 270.88L1395.04 271.22L1395.24 271.49L1395.28 271.55L1395.51 271.86L1395.75 272.15L1395.98 272.44L1396.21 272.71L1396.45 272.96L1396.68 273.21L1396.92 273.45L1397.15 273.68L1397.39 273.90L1397.62 274.11L1397.86 274.32L1398.09 274.52L1398.32 274.72L1398.56 274.92L1398.79 275.12L1399.03 275.32L1399.26 275.51L1399.50 275.71L1399.73 275.92L1399.73 275.92L1399.96 276.12L1400.20 276.34L1400.43 276.56L1400.67 276.78L1400.90 277.01L1401.14 277.23L1401.37 277.44L1401.60 277.66L1401.84 277.86L1402.07 278.05L1402.31 278.23L1402.54 278.40L1402.78 278.55L1403.01 278.68L1403.24 278.79L1403.48 278.87L1403.48 278.87L1403.71 278.95L1403.95 279.02L1404.18 279.09L1404.42 279.15L1404.65 279.22L1404.89 279.28L1405.12 279.34L1405.35 279.39L1405.59 279.44L1405.82 279.48L1406.06 279.52L1406.29 279.55L1406.53 279.58L1406.76 279.60L1406.99 279.61L1407.23 279.61" fill="none" stroke="#000" stroke-width="3.6" stroke-linejoin="round"/>
<path d="M840.25 274.66h9.9v9.9h-9.9zM843.34 274.65h9.9v9.9h-9.9zM846.43 274.62h9.9v9.9h-9.9zM849.52 274.56h9.9v9.9h-9.9zM852.61 273.83h9.9v9.9h-9.9zM864.96 272.61h9.9v9.9h-9.9zM868.05 274.56h9.9v9.9h-9.9zM871.14 274.63h9.9v9.9h-9.9zM874.23 274.65h9.9v9.9h-9.9zM877.32 274.66h9.9v9.9h-9.9zM880.41 274.66h9.9v9.9h-9.9zM883.49 274.66h9.9v9.9h-9.9zM886.58 274.66h9.9v9.9h-9.9zM889.67 274.66h9.9v9.9h-9.9zM892.76 274.66h9.9v9.9h-9.9zM895.85 274.66h9.9v9.9h-9.9zM898.94 274.66h9.9v9.9h-9.9zM902.03 274.66h9.9v9.9h-9.9zM905.12 274.66h9.9v9.9h-9.9zM914.38 274.66h9.9v9.9h-9.9zM917.47 274.66h9.9v9.9h-9.9zM920.56 274.65h9.9v9.9h-9.9zM923.65 274.65h9.9v9.9h-9.9zM926.74 274.63h9.9v9.9h-9.9zM929.83 274.62h9.9v9.9h-9.9zM932.92 274.60h9.9v9.9h-9.9zM936.01 274.58h9.9v9.9h-9.9zM939.09 274.55h9.9v9.9h-9.9zM942.18 274.52h9.9v9.9h-9.9zM945.27 274.48h9.9v9.9h-9.9zM948.36 274.44h9.9v9.9h-9.9zM951.45 274.40h9.9v9.9h-9.9zM954.54 274.34h9.9v9.9h-9.9zM957.63 274.28h9.9v9.9h-9.9zM960.72 274.22h9.9v9.9h-9.9zM963.81 274.15h9.9v9.9h-9.9zM966.89 274.07h9.9v9.9h-9.9zM969.98 273.98h9.9v9.9h-9.9zM973.07 273.89h9.9v9.9h-9.9zM976.16 273.79h9.9v9.9h-9.9zM979.25 273.68h9.9v9.9h-9.9zM982.34 273.56h9.9v9.9h-9.9zM985.43 273.14h9.9v9.9h-9.9zM988.52 272.10h9.9v9.9h-9.9zM1000.87 272.06h9.9v9.9h-9.9zM1003.96 272.97h9.9v9.9h-9.9zM1007.05 273.47h9.9v9.9h-9.9zM1010.14 273.57h9.9v9.9h-9.9zM1013.23 273.59h9.9v9.9h-9.9zM1016.32 273.62h9.9v9.9h-9.9zM1019.41 273.64h9.9v9.9h-9.9zM1022.49 273.66h9.9v9.9h-9.9zM1025.58 273.68h9.9v9.9h-9.9zM1028.67 273.70h9.9v9.9h-9.9zM1031.76 273.71h9.9v9.9h-9.9zM1034.85 273.72h9.9v9.9h-9.9zM1037.94 273.73h9.9v9.9h-9.9zM1041.03 273.74h9.9v9.9h-9.9zM1044.12 273.75h9.9v9.9h-9.9zM1047.21 273.76h9.9v9.9h-9.9zM1050.29 273.76h9.9v9.9h-9.9zM1053.38 273.77h9.9v9.9h-9.9zM1056.47 273.77h9.9v9.9h-9.9zM1059.56 273.77h9.9v9.9h-9.9zM1062.65 273.77h9.9v9.9h-9.9zM1065.74 273.78h9.9v9.9h-9.9zM1068.83 273.78h9.9v9.9h-9.9zM1075.01 273.66h9.9v9.9h-9.9zM1078.09 273.77h9.9v9.9h-9.9zM1081.18 273.77h9.9v9.9h-9.9zM1084.27 273.76h9.9v9.9h-9.9zM1087.36 273.75h9.9v9.9h-9.9zM1090.45 273.74h9.9v9.9h-9.9zM1093.54 273.72h9.9v9.9h-9.9zM1096.63 273.70h9.9v9.9h-9.9zM1099.72 273.67h9.9v9.9h-9.9zM1102.81 273.63h9.9v9.9h-9.9zM1105.89 273.59h9.9v9.9h-9.9zM1108.98 273.54h9.9v9.9h-9.9zM1112.07 273.48h9.9v9.9h-9.9zM1115.16 273.41h9.9v9.9h-9.9zM1118.25 273.33h9.9v9.9h-9.9zM1121.34 273.25h9.9v9.9h-9.9zM1124.43 273.09h9.9v9.9h-9.9zM1127.52 272.01h9.9v9.9h-9.9zM1139.87 270.60h9.9v9.9h-9.9zM1142.96 272.18h9.9v9.9h-9.9zM1146.05 272.52h9.9v9.9h-9.9zM1149.14 272.63h9.9v9.9h-9.9zM1152.23 272.71h9.9v9.9h-9.9zM1155.32 272.77h9.9v9.9h-9.9zM1158.41 272.80h9.9v9.9h-9.9zM1161.49 272.81h9.9v9.9h-9.9zM1164.58 272.60h9.9v9.9h-9.9zM1167.67 271.41h9.9v9.9h-9.9zM1180.03 272.39h9.9v9.9h-9.9zM1183.12 272.97h9.9v9.9h-9.9zM1186.21 273.18h9.9v9.9h-9.9zM1189.29 273.18h9.9v9.9h-9.9zM1192.38 273.18h9.9v9.9h-9.9zM1195.47 273.18h9.9v9.9h-9.9zM1198.56 273.18h9.9v9.9h-9.9zM1201.65 270.74h9.9v9.9h-9.9zM1207.83 273.18h9.9v9.9h-9.9zM1210.92 273.18h9.9v9.9h-9.9zM1214.01 273.18h9.9v9.9h-9.9zM1217.09 273.18h9.9v9.9h-9.9zM1220.18 273.18h9.9v9.9h-9.9zM1223.27 273.18h9.9v9.9h-9.9zM1226.36 273.18h9.9v9.9h-9.9zM1229.45 273.18h9.9v9.9h-9.9zM1232.54 273.18h9.9v9.9h-9.9zM1235.63 273.18h9.9v9.9h-9.9zM1238.72 273.18h9.9v9.9h-9.9zM1241.81 273.18h9.9v9.9h-9.9zM1244.89 273.18h9.9v9.9h-9.9zM1247.98 273.18h9.9v9.9h-9.9zM1251.07 273.18h9.9v9.9h-9.9zM1254.16 273.18h9.9v9.9h-9.9zM1257.25 273.18h9.9v9.9h-9.9zM1260.34 273.18h9.9v9.9h-9.9zM1263.43 273.18h9.9v9.9h-9.9zM1266.52 273.18h9.9v9.9h-9.9zM1269.61 273.18h9.9v9.9h-9.9zM1272.69 273.18h9.9v9.9h-9.9zM1275.78 273.18h9.9v9.9h-9.9zM1278.87 273.18h9.9v9.9h-9.9zM1281.96 272.85h9.9v9.9h-9.9zM1294.32 272.36h9.9v9.9h-9.9zM1297.41 273.33h9.9v9.9h-9.9zM1300.50 273.76h9.9v9.9h-9.9zM1303.58 273.78h9.9v9.9h-9.9zM1306.67 273.78h9.9v9.9h-9.9zM1309.76 273.78h9.9v9.9h-9.9zM1312.85 273.78h9.9v9.9h-9.9zM1315.94 273.78h9.9v9.9h-9.9zM1319.03 273.78h9.9v9.9h-9.9zM1322.12 273.78h9.9v9.9h-9.9zM1325.21 273.75h9.9v9.9h-9.9zM1328.30 273.59h9.9v9.9h-9.9zM1331.38 273.27h9.9v9.9h-9.9zM1334.47 271.24h9.9v9.9h-9.9zM1337.56 268.96h9.9v9.9h-9.9zM1340.65 266.06h9.9v9.9h-9.9zM1356.10 265.26h9.9v9.9h-9.9zM1359.18 266.01h9.9v9.9h-9.9zM1362.27 266.11h9.9v9.9h-9.9zM1365.36 266.14h9.9v9.9h-9.9zM1368.45 266.16h9.9v9.9h-9.9zM1371.54 266.17h9.9v9.9h-9.9zM1374.63 265.38h9.9v9.9h-9.9zM1377.72 261.05h9.9v9.9h-9.9zM1390.07 266.24h9.9v9.9h-9.9zM1393.16 269.59h9.9v9.9h-9.9zM1396.25 272.34h9.9v9.9h-9.9zM1399.34 274.17h9.9v9.9h-9.9zM856.25 271.71h9.9v9.9h-9.9zM859.35 271.71h9.9v9.9h-9.9zM862.44 271.71h9.9v9.9h-9.9zM909.66 261.00h9.9v9.9h-9.9zM991.65 268.75h9.9v9.9h-9.9zM994.74 156.94h9.9v9.9h-9.9zM997.82 268.75h9.9v9.9h-9.9zM1072.09 259.52h9.9v9.9h-9.9zM1131.16 265.80h9.9v9.9h-9.9zM1134.23 173.78h9.9v9.9h-9.9zM1137.32 265.80h9.9v9.9h-9.9zM1169.67 268.01h9.9v9.9h-9.9zM1172.76 205.24h9.9v9.9h-9.9zM1175.85 268.01h9.9v9.9h-9.9zM1203.34 267.42h9.9v9.9h-9.9zM1285.26 268.75h9.9v9.9h-9.9zM1288.34 247.71h9.9v9.9h-9.9zM1291.43 268.75h9.9v9.9h-9.9zM1344.56 223.70h9.9v9.9h-9.9zM1350.71 229.17h9.9v9.9h-9.9zM1353.78 263.58h9.9v9.9h-9.9zM1380.77 241.72h9.9v9.9h-9.9zM1386.91 262.11h9.9v9.9h-9.9z" fill="#000"/>
<path d="M845.05 261.15L845.28 260.73L845.52 260.30L845.65 260.04L845.75 259.84L845.99 259.38L846.22 258.92L846.46 258.47L846.69 258.02L846.92 257.58L847.16 257.14L847.39 256.69L847.63 256.25L847.86 255.80L848.10 255.34L848.33 254.89L848.57 254.42L848.80 253.95L849.03 253.46L849.27 252.97L849.50 252.46L849.74 251.94L849.97 251.40L850.21 250.85L850.44 250.29L850.67 249.70L850.91 249.09L851.14 248.46L851.38 247.81L851.61 247.14L851.85 246.44L852.08 245.71L852.31 244.96L852.55 244.18L852.68 243.72L852.78 243.36L853.02 242.48L853.25 241.51L853.49 240.48L853.72 239.37L853.95 238.18L854.19 236.93L854.42 235.61L854.66 234.22L854.89 232.76L855.13 231.24L855.36 229.66L855.60 228.01L855.83 226.30L856.06 224.54L856.29 222.75L856.30 222.71L856.53 220.75L856.77 218.61L857.00 216.29L857.24 213.81L857.47 211.18L857.70 208.41L857.94 205.51L858.17 202.50L858.41 199.39L858.64 196.19L858.88 192.92L859.11 189.58L859.34 186.18L859.58 182.75L859.81 179.29L860.05 175.82L860.28 172.34L860.42 170.31L860.52 168.82L860.75 164.86L860.99 160.58L861.22 156.22L861.45 152.03L861.69 148.25L861.92 145.20L861.92 145.12L862.16 142.24L862.39 139.36L862.63 136.91L862.86 135.29L863.04 134.87L863.09 134.87L863.33 134.87L863.56 134.87L863.80 134.87L863.94 134.87L864.03 148.18L864.27 261.68L864.50 390.75L864.65 424.36L864.73 424.36L864.97 424.36L865.20 424.36L865.44 424.36L865.67 424.36L865.91 424.36L866.04 424.36L866.14 423.93L866.37 420.24L866.61 414.05L866.84 406.92L867.08 400.41L867.16 398.51L867.31 395.46L867.55 390.81L867.78 386.40L868.02 382.31L868.16 380.05L868.25 378.61L868.48 375.04L868.72 371.55L868.95 368.15L869.19 364.83L869.42 361.63L869.66 358.53L869.89 355.56L870.12 352.71L870.36 350.01L870.59 347.46L870.83 345.08L871.06 342.86L871.28 340.91L871.30 340.82L871.53 338.88L871.76 336.98L872.00 335.13L872.23 333.32L872.47 331.56L872.70 329.85L872.94 328.19L873.17 326.59L873.40 325.05L873.64 323.57L873.87 322.15L874.11 320.80L874.34 319.52L874.58 318.31L874.81 317.17L875.05 316.12L875.28 315.14L875.51 314.25L875.75 313.45L875.89 312.99L875.98 312.72L876.22 312.04L876.45 311.37L876.69 310.73L876.92 310.10L877.15 309.50L877.39 308.91L877.62 308.35L877.86 307.80L878.09 307.27L878.33 306.76L878.56 306.26L878.79 305.78L879.03 305.31L879.26 304.86L879.50 304.42L879.73 303.99L879.97 303.58L880.20 303.18L880.44 302.80L880.67 302.42L880.90 302.05L881.14 301.70L881.37 301.35L881.61 301.01L881.84 300.68L882.08 300.36L882.31 300.04L882.54 299.73L882.78 299.43L883.01 299.13L883.25 298.84L883.48 298.55L883.63 298.37L883.72 298.27L883.95 297.99L884.18 297.71L884.42 297.45L884.65 297.18L884.89 296.93L885.12 296.68L885.36 296.44L885.59 296.20L885.82 295.96L886.06 295.73L886.29 295.51L886.53 295.29L886.76 295.07L887.00 294.86L887.23 294.65L887.47 294.45L887.70 294.25L887.93 294.05L888.17 293.86L888.40 293.66L888.64 293.48L888.87 293.29L889.11 293.11L889.34 292.93L889.57 292.75L889.81 292.57L890.04 292.39L890.28 292.22L890.51 292.05L890.75 291.88L890.98 291.71L891.21 291.54L891.37 291.43L891.45 291.37L891.68 291.20L891.92 291.04L892.15 290.88L892.39 290.72L892.62 290.56L892.86 290.41L893.09 290.26L893.32 290.11L893.56 289.96L893.79 289.81L894.03 289.67L894.26 289.53L894.50 289.38L894.73 289.24L894.96 289.11L895.20 288.97L895.43 288.83L895.67 288.70L895.90 288.56L896.14 288.43L896.37 288.30L896.60 288.17L896.84 288.04L897.07 287.90L897.31 287.77L897.54 287.64L897.78 287.51L898.01 287.38L898.24 287.25L898.48 287.12L898.71 286.99L898.95 286.86L899.10 286.77L899.18 286.73L899.42 286.60L899.65 286.48L899.89 286.35L900.12 286.23L900.35 286.11L900.59 285.99L900.82 285.88L901.06 285.76L901.29 285.65L901.53 285.54L901.76 285.42L901.99 285.31L902.23 285.20L902.46 285.09L902.70 284.98L902.93 284.86L903.17 284.75L903.40 284.64L903.63 284.52L903.87 284.40L904.10 284.29L904.34 284.17L904.57 284.04L904.81 283.92L905.04 283.79L905.28 283.66L905.51 283.53L905.74 283.40L905.98 283.26L906.21 283.12L906.45 282.97L906.68 282.82L906.84 282.71L906.92 282.66L907.15 282.49L907.38 282.29L907.62 282.07L907.85 281.84L908.09 281.59L908.32 281.33L908.56 281.06L908.79 280.79L909.02 280.52L909.26 280.25L909.49 279.98L909.73 279.72L909.96 279.47L910.20 279.23L910.43 279.01L910.66 278.80L910.90 278.62L911.13 278.46L911.37 278.33L911.60 278.23L911.84 278.17L912.07 278.14L912.14 278.13L912.31 278.31L912.54 279.06L912.77 280.28L913.01 281.83L913.24 283.59L913.48 285.41L913.71 287.17L913.95 288.72L914.18 289.93L914.41 290.67L914.58 290.84L914.65 290.84L914.88 290.83L915.12 290.80L915.35 290.77L915.59 290.72L915.82 290.66L916.05 290.60L916.29 290.52L916.52 290.44L916.76 290.35L916.99 290.25L917.23 290.14L917.46 290.03L917.70 289.91L917.93 289.79L918.16 289.67L918.40 289.54L918.63 289.41L918.87 289.28L919.10 289.15L919.34 289.01L919.57 288.88L919.80 288.75L920.04 288.62L920.27 288.49L920.51 288.37L920.74 288.25L920.98 288.13L921.21 288.02L921.44 287.92L921.68 287.82L921.91 287.73L922.15 287.64L922.32 287.59L922.38 287.57L922.62 287.49L922.85 287.42L923.08 287.36L923.32 287.29L923.55 287.22L923.79 287.16L924.02 287.09L924.26 287.03L924.49 286.97L924.73 286.91L924.96 286.85L925.19 286.79L925.43 286.74L925.66 286.68L925.90 286.62L926.13 286.57L926.37 286.51L926.60 286.46L926.83 286.41L927.07 286.35L927.30 286.30L927.54 286.24L927.77 286.19L928.01 286.14L928.24 286.09L928.47 286.03L928.71 285.98L928.94 285.93L929.18 285.87L929.41 285.82L929.65 285.76L929.88 285.71L930.05 285.67L930.11 285.65L930.35 285.60L930.58 285.54L930.82 285.49L931.05 285.43L931.29 285.38L931.52 285.32L931.76 285.27L931.99 285.21L932.22 285.16L932.46 285.10L932.69 285.05L932.93 285.00L933.16 284.94L933.40 284.89L933.63 284.83L933.86 284.78L934.10 284.73L934.33 284.67L934.57 284.62L934.80 284.57L935.04 284.51L935.27 284.46L935.50 284.41L935.74 284.36L935.97 284.30L936.21 284.25L936.44 284.20L936.68 284.14L936.91 284.09L937.15 284.04L937.38 283.99L937.61 283.93L937.79 283.89L937.85 283.88L938.08 283.83L938.32 283.78L938.55 283.73L938.79 283.67L939.02 283.62L939.25 283.57L939.49 283.52L939.72 283.47L939.96 283.42L940.19 283.37L940.43 283.32L940.66 283.27L940.89 283.21L941.13 283.16L941.36 283.11L941.60 283.06L941.83 283.01L942.07 282.96L942.30 282.91L942.53 282.86L942.77 282.81L943.00 282.76L943.24 282.71L943.47 282.66L943.71 282.60L943.94 282.55L944.18 282.50L944.41 282.45L944.64 282.40L944.88 282.34L945.11 282.29L945.35 282.24L945.53 282.20L945.58 282.18L945.82 282.13L946.05 282.08L946.28 282.02L946.52 281.97L946.75 281.92L946.99 281.86L947.22 281.81L947.46 281.75L947.69 281.70L947.92 281.65L948.16 281.59L948.39 281.54L948.63 281.48L948.86 281.43L949.10 281.37L949.33 281.32L949.57 281.26L949.80 281.21L950.03 281.15L950.27 281.10L950.50 281.04L950.74 280.98L950.97 280.93L951.21 280.87L951.44 280.81L951.67 280.75L951.91 280.70L952.14 280.64L952.38 280.58L952.61 280.52L952.85 280.46L953.08 280.40L953.26 280.35L953.31 280.34L953.55 280.28L953.78 280.21L954.02 280.15L954.25 280.09L954.49 280.02L954.72 279.96L954.95 279.90L955.19 279.83L955.42 279.76L955.66 279.70L955.89 279.63L956.13 279.57L956.36 279.50L956.60 279.43L956.83 279.36L957.06 279.30L957.30 279.23L957.53 279.16L957.77 279.09L958.00 279.02L958.24 278.95L958.47 278.88L958.70 278.82L958.94 278.75L959.17 278.68L959.41 278.61L959.64 278.54L959.88 278.47L960.11 278.40L960.34 278.33L960.58 278.26L960.81 278.19L961.00 278.13L961.05 278.12L961.28 278.05L961.52 277.98L961.75 277.91L961.99 277.85L962.22 277.78L962.45 277.71L962.69 277.64L962.92 277.57L963.16 277.51L963.39 277.44L963.63 277.37L963.86 277.30L964.09 277.23L964.33 277.17L964.56 277.10L964.80 277.03L965.03 276.96L965.27 276.89L965.50 276.82L965.73 276.75L965.97 276.67L966.20 276.60L966.44 276.53L966.67 276.46L966.91 276.38L967.14 276.31L967.37 276.23L967.61 276.15L967.84 276.08L968.08 276.00L968.31 275.92L968.55 275.84L968.74 275.77L968.78 275.76L969.02 275.67L969.25 275.59L969.48 275.51L969.72 275.42L969.95 275.34L970.19 275.25L970.42 275.17L970.66 275.08L970.89 275.00L971.12 274.91L971.36 274.82L971.59 274.73L971.83 274.64L972.06 274.55L972.30 274.46L972.53 274.36L972.76 274.27L973.00 274.17L973.23 274.08L973.47 273.98L973.70 273.88L973.94 273.78L974.17 273.68L974.40 273.57L974.64 273.47L974.87 273.36L975.11 273.25L975.34 273.15L975.58 273.04L975.81 272.92L976.05 272.81L976.28 272.69L976.48 272.60L976.51 272.58L976.75 272.46L976.98 272.34L977.22 272.22L977.45 272.10L977.69 271.98L977.92 271.86L978.15 271.74L978.39 271.62L978.62 271.50L978.86 271.37L979.09 271.24L979.33 271.11L979.56 270.98L979.79 270.85L980.03 270.71L980.26 270.57L980.50 270.42L980.73 270.28L980.97 270.13L981.20 269.97L981.44 269.82L981.67 269.65L981.90 269.49L982.14 269.32L982.37 269.14L982.61 268.96L982.84 268.77L983.08 268.58L983.31 268.39L983.54 268.18L983.78 267.98L984.01 267.76L984.21 267.57L984.25 267.54L984.48 267.31L984.72 267.07L984.95 266.83L985.18 266.57L985.42 266.30L985.65 266.02L985.89 265.73L986.12 265.43L986.36 265.12L986.59 264.80L986.82 264.46L987.06 264.12L987.29 263.76L987.53 263.39L987.76 263.01L988.00 262.61L988.23 262.20L988.47 261.78L988.70 261.34L988.93 260.89L989.17 260.43L989.40 259.95L989.64 259.46L989.87 258.95L990.11 258.43L990.34 257.89L990.57 257.34L990.81 256.77L991.04 256.18L991.28 255.58L991.51 254.96L991.75 254.33L991.95 253.76L991.98 253.68L992.21 252.98L992.45 252.22L992.68 251.40L992.92 250.50L993.15 249.53L993.39 248.48L993.62 247.34L993.86 246.12L994.09 244.80L994.32 243.39L994.56 241.87L994.79 240.25L994.96 238.99L995.03 238.51L995.26 236.49L995.50 234.13L995.73 231.42L995.96 228.37L996.20 224.99L996.43 221.27L996.67 217.22L996.90 212.83L997.14 208.12L997.21 206.50L997.37 202.13L997.60 192.69L997.84 181.45L998.07 170.32L998.31 161.22L998.54 156.07L998.64 155.54L998.78 155.79L999.01 157.45L999.24 160.86L999.31 162.19L999.48 206.73L999.69 296.60L999.71 305.47L999.95 386.28L1000.06 401.83L1000.18 401.13L1000.42 396.33L1000.65 388.14L1000.89 377.97L1001.12 367.21L1001.35 357.26L1001.59 349.51L1001.71 346.81L1001.82 344.89L1002.06 341.11L1002.29 337.66L1002.53 334.52L1002.76 331.67L1002.99 329.09L1003.23 326.76L1003.46 324.68L1003.70 322.81L1003.93 321.15L1003.96 320.97L1004.17 319.64L1004.40 318.21L1004.63 316.85L1004.87 315.57L1005.10 314.36L1005.34 313.23L1005.57 312.15L1005.81 311.14L1006.04 310.20L1006.28 309.31L1006.51 308.47L1006.74 307.69L1006.98 306.95L1007.21 306.26L1007.42 305.68L1007.45 305.62L1007.68 305.00L1007.92 304.40L1008.15 303.81L1008.38 303.24L1008.62 302.68L1008.85 302.14L1009.09 301.61L1009.32 301.10L1009.56 300.60L1009.79 300.11L1010.02 299.64L1010.26 299.17L1010.49 298.72L1010.73 298.29L1010.96 297.86L1011.20 297.45L1011.43 297.05L1011.66 296.66L1011.90 296.28L1012.13 295.91L1012.37 295.55L1012.60 295.20L1012.84 294.86L1013.07 294.53L1013.31 294.20L1013.54 293.89L1013.77 293.59L1014.01 293.29L1014.24 293.00L1014.48 292.72L1014.71 292.45L1014.95 292.18L1015.16 291.94L1015.18 291.92L1015.41 291.67L1015.65 291.42L1015.88 291.17L1016.12 290.93L1016.35 290.69L1016.59 290.46L1016.82 290.23L1017.05 290.00L1017.29 289.78L1017.52 289.57L1017.76 289.35L1017.99 289.14L1018.23 288.94L1018.46 288.74L1018.69 288.55L1018.93 288.35L1019.16 288.17L1019.40 287.99L1019.63 287.81L1019.87 287.64L1020.10 287.47L1020.34 287.30L1020.57 287.14L1020.80 286.99L1021.04 286.84L1021.27 286.69L1021.51 286.55L1021.74 286.42L1021.98 286.29L1022.21 286.16L1022.44 286.04L1022.68 285.92L1022.90 285.81L1022.91 285.81L1023.15 285.70L1023.38 285.60L1023.62 285.49L1023.85 285.40L1024.08 285.30L1024.32 285.21L1024.55 285.12L1024.79 285.03L1025.02 284.95L1025.26 284.87L1025.49 284.79L1025.73 284.71L1025.96 284.63L1026.19 284.56L1026.43 284.49L1026.66 284.41L1026.90 284.34L1027.13 284.27L1027.37 284.20L1027.60 284.13L1027.83 284.07L1028.07 284.00L1028.30 283.93L1028.54 283.86L1028.77 283.80L1029.01 283.73L1029.24 283.66L1029.47 283.59L1029.71 283.52L1029.94 283.45L1030.18 283.38L1030.41 283.30L1030.63 283.23L1030.65 283.23L1030.88 283.15L1031.11 283.07L1031.35 283.00L1031.58 282.92L1031.82 282.84L1032.05 282.76L1032.29 282.68L1032.52 282.60L1032.76 282.52L1032.99 282.44L1033.22 282.36L1033.46 282.28L1033.69 282.20L1033.93 282.12L1034.16 282.04L1034.40 281.96L1034.63 281.89L1034.86 281.81L1035.10 281.73L1035.33 281.66L1035.57 281.58L1035.80 281.51L1036.04 281.44L1036.27 281.37L1036.50 281.30L1036.74 281.23L1036.97 281.16L1037.21 281.09L1037.44 281.03L1037.68 280.97L1037.91 280.91L1038.15 280.85L1038.37 280.79L1038.38 280.79L1038.61 280.74L1038.85 280.68L1039.08 280.63L1039.32 280.58L1039.55 280.53L1039.79 280.49L1040.02 280.44L1040.25 280.40L1040.49 280.35L1040.72 280.31L1040.96 280.27L1041.19 280.23L1041.43 280.19L1041.66 280.15L1041.89 280.11L1042.13 280.07L1042.36 280.03L1042.60 279.99L1042.83 279.95L1043.07 279.91L1043.30 279.87L1043.53 279.82L1043.77 279.78L1044.00 279.74L1044.24 279.70L1044.47 279.65L1044.71 279.61L1044.94 279.56L1045.18 279.52L1045.41 279.47L1045.64 279.42L1045.88 279.37L1046.11 279.32L1046.11 279.32L1046.35 279.26L1046.58 279.20L1046.82 279.15L1047.05 279.09L1047.28 279.03L1047.52 278.96L1047.75 278.90L1047.99 278.83L1048.22 278.77L1048.46 278.70L1048.69 278.63L1048.92 278.57L1049.16 278.50L1049.39 278.43L1049.63 278.36L1049.86 278.28L1050.10 278.21L1050.33 278.14L1050.57 278.07L1050.80 278.00L1051.03 277.93L1051.27 277.85L1051.50 277.78L1051.74 277.71L1051.97 277.64L1052.21 277.57L1052.44 277.50L1052.67 277.43L1052.91 277.36L1053.14 277.30L1053.38 277.23L1053.61 277.16L1053.85 277.10L1053.85 277.10L1054.08 277.04L1054.31 276.98L1054.55 276.91L1054.78 276.85L1055.02 276.79L1055.25 276.74L1055.49 276.68L1055.72 276.62L1055.95 276.56L1056.19 276.50L1056.42 276.45L1056.66 276.39L1056.89 276.33L1057.13 276.28L1057.36 276.22L1057.60 276.16L1057.83 276.11L1058.06 276.05L1058.30 275.99L1058.53 275.94L1058.77 275.88L1059.00 275.82L1059.24 275.76L1059.47 275.70L1059.70 275.64L1059.94 275.57L1060.17 275.51L1060.41 275.45L1060.64 275.38L1060.88 275.32L1061.11 275.25L1061.34 275.18L1061.58 275.11L1061.58 275.11L1061.81 275.04L1062.05 274.96L1062.28 274.89L1062.52 274.81L1062.75 274.73L1062.99 274.65L1063.22 274.56L1063.45 274.48L1063.69 274.40L1063.92 274.31L1064.16 274.22L1064.39 274.13L1064.63 274.05L1064.86 273.96L1065.09 273.87L1065.33 273.77L1065.56 273.68L1065.80 273.59L1066.03 273.50L1066.27 273.41L1066.50 273.31L1066.73 273.22L1066.97 273.13L1067.20 273.04L1067.44 272.94L1067.67 272.85L1067.91 272.76L1068.14 272.67L1068.37 272.58L1068.61 272.49L1068.84 272.40L1069.08 272.32L1069.31 272.23L1069.32 272.23L1069.55 272.14L1069.78 272.04L1070.02 271.94L1070.25 271.84L1070.48 271.73L1070.72 271.62L1070.95 271.50L1071.19 271.39L1071.42 271.28L1071.66 271.17L1071.89 271.06L1072.12 270.96L1072.36 270.86L1072.59 270.77L1072.83 270.68L1073.06 270.61L1073.30 270.54L1073.53 270.48L1073.76 270.44L1074.00 270.40L1074.23 270.39L1074.42 270.38L1074.47 270.38L1074.70 270.39L1074.94 270.41L1075.17 270.45L1075.40 270.50L1075.64 270.57L1075.87 270.64L1076.11 270.73L1076.34 270.83L1076.58 270.94L1076.81 271.06L1077.05 271.19L1077.06 271.19L1077.28 271.55L1077.51 272.37L1077.75 273.55L1077.98 274.99L1078.22 276.60L1078.45 278.29L1078.69 279.97L1078.92 281.53L1079.15 282.88L1079.39 283.94L1079.62 284.60L1079.82 284.78L1079.86 284.78L1080.09 284.77L1080.33 284.76L1080.56 284.73L1080.79 284.70L1081.03 284.66L1081.26 284.61L1081.50 284.55L1081.73 284.49L1081.97 284.42L1082.20 284.35L1082.44 284.27L1082.67 284.19L1082.90 284.10L1083.14 284.02L1083.37 283.93L1083.61 283.84L1083.84 283.75L1084.08 283.65L1084.31 283.56L1084.54 283.47L1084.78 283.38L1084.79 283.38L1085.01 283.29L1085.25 283.19L1085.48 283.09L1085.72 282.98L1085.95 282.86L1086.18 282.74L1086.42 282.61L1086.65 282.48L1086.89 282.34L1087.12 282.20L1087.36 282.06L1087.59 281.91L1087.82 281.76L1088.06 281.60L1088.29 281.45L1088.53 281.29L1088.76 281.13L1089.00 280.97L1089.23 280.81L1089.47 280.65L1089.70 280.49L1089.93 280.33L1090.17 280.17L1090.40 280.02L1090.64 279.86L1090.87 279.71L1091.11 279.56L1091.34 279.41L1091.57 279.27L1091.81 279.13L1092.04 278.99L1092.28 278.86L1092.51 278.74L1092.53 278.73L1092.75 278.61L1092.98 278.49L1093.21 278.37L1093.45 278.25L1093.68 278.14L1093.92 278.02L1094.15 277.91L1094.39 277.79L1094.62 277.68L1094.86 277.57L1095.09 277.46L1095.32 277.35L1095.56 277.24L1095.79 277.13L1096.03 277.02L1096.26 276.91L1096.50 276.81L1096.73 276.70L1096.96 276.59L1097.20 276.49L1097.43 276.38L1097.67 276.28L1097.90 276.17L1098.14 276.07L1098.37 275.96L1098.60 275.86L1098.84 275.75L1099.07 275.65L1099.31 275.54L1099.54 275.44L1099.78 275.33L1100.01 275.22L1100.24 275.12L1100.27 275.11L1100.48 275.01L1100.71 274.90L1100.95 274.80L1101.18 274.70L1101.42 274.59L1101.65 274.49L1101.89 274.39L1102.12 274.28L1102.35 274.18L1102.59 274.08L1102.82 273.98L1103.06 273.88L1103.29 273.78L1103.53 273.68L1103.76 273.58L1103.99 273.48L1104.23 273.38L1104.46 273.27L1104.70 273.17L1104.93 273.07L1105.17 272.97L1105.40 272.86L1105.63 272.76L1105.87 272.65L1106.10 272.54L1106.34 272.44L1106.57 272.33L1106.81 272.22L1107.04 272.11L1107.28 272.00L1107.51 271.88L1107.74 271.77L1107.98 271.65L1108.01 271.64L1108.21 271.53L1108.45 271.41L1108.68 271.30L1108.92 271.18L1109.15 271.06L1109.38 270.94L1109.62 270.82L1109.85 270.70L1110.09 270.58L1110.32 270.45L1110.56 270.33L1110.79 270.21L1111.02 270.08L1111.26 269.96L1111.49 269.83L1111.73 269.70L1111.96 269.57L1112.20 269.44L1112.43 269.30L1112.66 269.17L1112.90 269.03L1113.13 268.89L1113.37 268.75L1113.60 268.61L1113.84 268.47L1114.07 268.32L1114.31 268.17L1114.54 268.02L1114.77 267.87L1115.01 267.71L1115.24 267.55L1115.48 267.39L1115.71 267.23L1115.74 267.20L1115.95 267.06L1116.18 266.90L1116.41 266.73L1116.65 266.56L1116.88 266.39L1117.12 266.22L1117.35 266.05L1117.59 265.88L1117.82 265.71L1118.05 265.53L1118.29 265.35L1118.52 265.17L1118.76 264.98L1118.99 264.79L1119.23 264.59L1119.46 264.40L1119.69 264.19L1119.93 263.99L1120.16 263.77L1120.40 263.55L1120.63 263.33L1120.87 263.10L1121.10 262.86L1121.34 262.62L1121.57 262.37L1121.80 262.11L1122.04 261.85L1122.27 261.58L1122.51 261.30L1122.74 261.01L1122.98 260.71L1123.21 260.41L1123.44 260.09L1123.48 260.04L1123.68 259.76L1123.91 259.42L1124.15 259.07L1124.38 258.70L1124.62 258.31L1124.85 257.91L1125.08 257.49L1125.32 257.05L1125.55 256.60L1125.79 256.13L1126.02 255.64L1126.26 255.14L1126.49 254.61L1126.73 254.07L1126.96 253.51L1127.19 252.93L1127.43 252.32L1127.66 251.70L1127.90 251.06L1128.13 250.40L1128.37 249.71L1128.60 249.00L1128.83 248.27L1129.07 247.52L1129.30 246.75L1129.54 245.95L1129.77 245.13L1130.01 244.28L1130.24 243.41L1130.47 242.51L1130.71 241.59L1130.94 240.65L1131.18 239.68L1131.22 239.51L1131.41 238.65L1131.65 237.50L1131.88 236.24L1132.11 234.87L1132.35 233.37L1132.58 231.76L1132.82 230.03L1133.05 228.18L1133.29 226.21L1133.52 224.12L1133.76 221.90L1133.99 219.57L1134.22 217.12L1134.38 215.36L1134.46 214.52L1134.69 211.52L1134.93 208.08L1135.16 204.23L1135.40 200.01L1135.63 195.47L1135.86 190.64L1136.10 185.56L1136.33 180.28L1136.57 174.83L1136.63 173.27L1136.80 168.41L1137.04 159.63L1137.27 150.11L1137.50 141.61L1137.74 135.89L1137.91 134.50L1137.97 134.56L1138.21 135.85L1138.44 138.88L1138.51 140.03L1138.68 187.99L1138.91 294.42L1138.95 303.98L1139.15 331.23L1139.38 359.74L1139.61 382.02L1139.85 397.18L1140.08 404.34L1140.16 404.79L1140.32 403.88L1140.55 399.73L1140.79 393.10L1141.02 384.97L1141.25 376.30L1141.49 368.06L1141.72 361.22L1141.88 357.89L1141.96 356.59L1142.19 352.82L1142.43 349.30L1142.66 346.04L1142.89 343.01L1143.13 340.22L1143.36 337.64L1143.60 335.26L1143.83 333.08L1144.07 331.08L1144.13 330.57L1144.30 329.22L1144.53 327.47L1144.77 325.81L1145.00 324.25L1145.24 322.77L1145.47 321.38L1145.71 320.08L1145.94 318.86L1146.18 317.72L1146.41 316.67L1146.64 315.69L1146.69 315.50L1146.88 314.77L1147.11 313.87L1147.35 312.99L1147.58 312.12L1147.82 311.28L1148.05 310.45L1148.28 309.65L1148.52 308.86L1148.75 308.08L1148.99 307.33L1149.22 306.59L1149.46 305.88L1149.69 305.17L1149.92 304.49L1150.16 303.83L1150.39 303.18L1150.63 302.54L1150.86 301.93L1151.10 301.33L1151.33 300.75L1151.57 300.19L1151.80 299.64L1152.03 299.11L1152.27 298.59L1152.50 298.10L1152.74 297.61L1152.97 297.15L1153.21 296.70L1153.44 296.26L1153.67 295.84L1153.91 295.44L1154.14 295.05L1154.38 294.68L1154.43 294.60L1154.61 294.32L1154.85 293.98L1155.08 293.65L1155.31 293.33L1155.55 293.03L1155.78 292.73L1156.02 292.45L1156.25 292.18L1156.49 291.91L1156.72 291.65L1156.95 291.40L1157.19 291.16L1157.42 290.92L1157.66 290.69L1157.89 290.46L1158.13 290.24L1158.36 290.02L1158.60 289.80L1158.83 289.58L1159.06 289.37L1159.30 289.15L1159.53 288.94L1159.77 288.72L1160.00 288.50L1160.24 288.28L1160.47 288.06L1160.70 287.83L1160.94 287.59L1161.17 287.35L1161.41 287.11L1161.64 286.85L1161.88 286.59L1162.11 286.32L1162.17 286.26L1162.34 286.05L1162.58 285.78L1162.81 285.51L1163.05 285.25L1163.28 284.99L1163.52 284.74L1163.75 284.48L1163.98 284.23L1164.22 283.98L1164.45 283.72L1164.69 283.47L1164.92 283.21L1165.16 282.95L1165.39 282.69L1165.63 282.43L1165.86 282.16L1166.09 281.89L1166.33 281.61L1166.56 281.32L1166.80 281.03L1167.03 280.73L1167.27 280.43L1167.50 280.11L1167.73 279.78L1167.97 279.45L1168.20 279.10L1168.44 278.75L1168.67 278.38L1168.91 277.99L1169.14 277.60L1169.37 277.19L1169.61 276.77L1169.84 276.33L1169.90 276.21L1170.08 275.86L1170.31 275.36L1170.55 274.81L1170.78 274.22L1171.02 273.59L1171.25 272.92L1171.48 272.22L1171.72 271.49L1171.95 270.72L1172.19 269.93L1172.42 269.11L1172.66 268.26L1172.89 267.39L1173.12 266.50L1173.36 265.59L1173.36 265.58L1173.59 264.51L1173.83 263.15L1174.06 261.61L1174.30 259.99L1174.53 258.39L1174.76 256.90L1175.00 255.62L1175.23 254.65L1175.47 254.09L1175.61 253.99L1175.70 254.11L1175.94 255.50L1176.17 258.18L1176.40 261.87L1176.64 266.27L1176.87 271.10L1177.11 276.06L1177.34 280.86L1177.58 285.21L1177.64 286.26L1177.81 289.27L1178.05 293.95L1178.28 299.03L1178.51 304.24L1178.75 309.27L1178.98 313.87L1179.22 317.75L1179.45 320.62L1179.69 322.22L1179.81 322.44L1179.92 322.39L1180.15 321.94L1180.39 321.09L1180.62 319.93L1180.86 318.54L1181.09 316.99L1181.33 315.35L1181.56 313.71L1181.79 312.15L1182.03 310.73L1182.26 309.55L1182.36 309.15L1182.50 308.60L1182.73 307.69L1182.97 306.80L1183.20 305.93L1183.44 305.08L1183.67 304.26L1183.90 303.48L1184.14 302.75L1184.37 302.06L1184.61 301.42L1184.84 300.84L1185.08 300.33L1185.31 299.89L1185.38 299.77L1185.54 299.50L1185.78 299.13L1186.01 298.78L1186.25 298.43L1186.48 298.11L1186.72 297.79L1186.95 297.49L1187.18 297.19L1187.42 296.91L1187.65 296.64L1187.89 296.38L1188.12 296.12L1188.36 295.88L1188.59 295.64L1188.82 295.41L1189.06 295.19L1189.29 294.98L1189.53 294.77L1189.76 294.57L1190.00 294.37L1190.23 294.17L1190.47 293.98L1190.70 293.80L1190.93 293.61L1191.17 293.43L1191.40 293.25L1191.64 293.07L1191.87 292.89L1192.11 292.72L1192.34 292.54L1192.57 292.36L1192.81 292.18L1193.04 292.00L1193.11 291.94L1193.28 291.82L1193.51 291.63L1193.75 291.45L1193.98 291.27L1194.21 291.10L1194.45 290.92L1194.68 290.74L1194.92 290.57L1195.15 290.40L1195.39 290.23L1195.62 290.06L1195.86 289.90L1196.09 289.73L1196.32 289.57L1196.56 289.41L1196.79 289.26L1197.03 289.10L1197.26 288.95L1197.50 288.80L1197.73 288.65L1197.96 288.51L1198.20 288.37L1198.43 288.23L1198.67 288.10L1198.90 287.96L1199.14 287.84L1199.37 287.71L1199.60 287.59L1199.84 287.47L1200.07 287.35L1200.31 287.24L1200.54 287.13L1200.78 287.03L1200.85 287.00L1201.01 286.93L1201.24 286.82L1201.48 286.72L1201.71 286.61L1201.95 286.50L1202.18 286.39L1202.42 286.29L1202.65 286.18L1202.89 286.07L1203.12 285.97L1203.35 285.87L1203.59 285.78L1203.82 285.69L1204.06 285.60L1204.29 285.52L1204.53 285.45L1204.76 285.38L1204.99 285.32L1205.23 285.27L1205.46 285.23L1205.70 285.19L1205.93 285.17L1206.17 285.15L1206.34 285.15L1206.40 285.16L1206.63 285.27L1206.87 285.51L1207.10 285.84L1207.34 286.22L1207.57 286.63L1207.81 287.01L1208.04 287.35L1208.28 287.60L1208.51 287.73L1208.59 287.73L1208.74 287.73L1208.98 287.72L1209.21 287.70L1209.45 287.68L1209.68 287.65L1209.92 287.60L1210.15 287.56L1210.38 287.51L1210.62 287.45L1210.85 287.38L1211.09 287.32L1211.32 287.24L1211.56 287.17L1211.79 287.09L1212.02 287.01L1212.26 286.92L1212.49 286.84L1212.73 286.75L1212.96 286.66L1213.20 286.57L1213.43 286.48L1213.66 286.39L1213.90 286.30L1214.13 286.21L1214.37 286.12L1214.60 286.04L1214.84 285.96L1215.07 285.88L1215.31 285.80L1215.54 285.73L1215.77 285.66L1216.01 285.60L1216.24 285.54L1216.32 285.52L1216.48 285.48L1216.71 285.43L1216.95 285.38L1217.18 285.33L1217.41 285.28L1217.65 285.23L1217.88 285.18L1218.12 285.14L1218.35 285.09L1218.59 285.04L1218.82 285.00L1219.05 284.95L1219.29 284.91L1219.52 284.87L1219.76 284.82L1219.99 284.78L1220.23 284.74L1220.46 284.70L1220.69 284.65L1220.93 284.61L1221.16 284.57L1221.40 284.53L1221.63 284.49L1221.87 284.44L1222.10 284.40L1222.34 284.36L1222.57 284.32L1222.80 284.28L1223.04 284.23L1223.27 284.19L1223.51 284.15L1223.74 284.10L1223.98 284.06L1224.06 284.04L1224.21 284.01L1224.44 283.97L1224.68 283.92L1224.91 283.88L1225.15 283.84L1225.38 283.79L1225.62 283.75L1225.85 283.70L1226.08 283.66L1226.32 283.61L1226.55 283.57L1226.79 283.52L1227.02 283.48L1227.26 283.43L1227.49 283.39L1227.73 283.34L1227.96 283.30L1228.19 283.25L1228.43 283.21L1228.66 283.16L1228.90 283.12L1229.13 283.07L1229.37 283.03L1229.60 282.99L1229.83 282.94L1230.07 282.90L1230.30 282.85L1230.54 282.81L1230.77 282.76L1231.01 282.72L1231.24 282.67L1231.47 282.63L1231.71 282.58L1231.80 282.57L1231.94 282.54L1232.18 282.49L1232.41 282.45L1232.65 282.40L1232.88 282.36L1233.11 282.31L1233.35 282.27L1233.58 282.22L1233.82 282.18L1234.05 282.14L1234.29 282.09L1234.52 282.05L1234.76 282.00L1234.99 281.96L1235.22 281.91L1235.46 281.87L1235.69 281.82L1235.93 281.78L1236.16 281.73L1236.40 281.69L1236.63 281.64L1236.86 281.60L1237.10 281.55L1237.33 281.51L1237.57 281.46L1237.80 281.42L1238.04 281.37L1238.27 281.33L1238.50 281.29L1238.74 281.24L1238.97 281.20L1239.21 281.15L1239.44 281.11L1239.54 281.09L1239.68 281.06L1239.91 281.02L1240.15 280.97L1240.38 280.93L1240.61 280.88L1240.85 280.84L1241.08 280.79L1241.32 280.75L1241.55 280.70L1241.79 280.66L1242.02 280.61L1242.25 280.57L1242.49 280.52L1242.72 280.48L1242.96 280.44L1243.19 280.39L1243.43 280.35L1243.66 280.30L1243.89 280.26L1244.13 280.21L1244.36 280.17L1244.60 280.12L1244.83 280.08L1245.07 280.03L1245.30 279.99L1245.53 279.94L1245.77 279.90L1246.00 279.85L1246.24 279.81L1246.47 279.76L1246.71 279.72L1246.94 279.67L1247.18 279.63L1247.27 279.61L1247.41 279.59L1247.64 279.54L1247.88 279.50L1248.11 279.45L1248.35 279.41L1248.58 279.36L1248.82 279.32L1249.05 279.27L1249.28 279.23L1249.52 279.18L1249.75 279.14L1249.99 279.09L1250.22 279.05L1250.46 279.00L1250.69 278.96L1250.92 278.91L1251.16 278.87L1251.39 278.82L1251.63 278.78L1251.86 278.74L1252.10 278.69L1252.33 278.65L1252.57 278.60L1252.80 278.56L1253.03 278.51L1253.27 278.47L1253.50 278.42L1253.74 278.38L1253.97 278.33L1254.21 278.29L1254.44 278.24L1254.67 278.20L1254.91 278.15L1255.01 278.13L1255.14 278.11L1255.38 278.06L1255.61 278.02L1255.85 277.98L1256.08 277.93L1256.31 277.89L1256.55 277.85L1256.78 277.80L1257.02 277.76L1257.25 277.71L1257.49 277.67L1257.72 277.63L1257.95 277.58L1258.19 277.54L1258.42 277.50L1258.66 277.45L1258.89 277.41L1259.13 277.37L1259.36 277.32L1259.60 277.28L1259.83 277.23L1260.06 277.19L1260.30 277.14L1260.53 277.10L1260.77 277.05L1261.00 277.01L1261.24 276.96L1261.47 276.92L1261.70 276.87L1261.94 276.82L1262.17 276.78L1262.41 276.73L1262.64 276.68L1262.75 276.66L1262.88 276.63L1263.11 276.58L1263.34 276.53L1263.58 276.48L1263.81 276.44L1264.05 276.39L1264.28 276.34L1264.52 276.29L1264.75 276.24L1264.98 276.19L1265.22 276.14L1265.45 276.09L1265.69 276.04L1265.92 275.99L1266.16 275.94L1266.39 275.89L1266.63 275.83L1266.86 275.78L1267.09 275.73L1267.33 275.67L1267.56 275.62L1267.80 275.57L1268.03 275.51L1268.27 275.45L1268.50 275.40L1268.73 275.34L1268.97 275.28L1269.20 275.22L1269.44 275.16L1269.67 275.10L1269.91 275.04L1270.14 274.98L1270.37 274.92L1270.48 274.89L1270.61 274.85L1270.84 274.78L1271.08 274.72L1271.31 274.65L1271.55 274.58L1271.78 274.50L1272.02 274.43L1272.25 274.35L1272.48 274.28L1272.72 274.20L1272.95 274.12L1273.19 274.04L1273.42 273.96L1273.66 273.88L1273.89 273.80L1274.12 273.71L1274.36 273.63L1274.59 273.54L1274.83 273.46L1275.06 273.37L1275.30 273.29L1275.53 273.20L1275.76 273.12L1276.00 273.03L1276.23 272.95L1276.47 272.86L1276.70 272.77L1276.94 272.69L1277.17 272.60L1277.40 272.52L1277.64 272.43L1277.87 272.35L1278.11 272.27L1278.22 272.23L1278.34 272.18L1278.58 272.10L1278.81 272.03L1279.05 271.95L1279.28 271.88L1279.51 271.80L1279.75 271.73L1279.98 271.66L1280.22 271.60L1280.45 271.53L1280.69 271.46L1280.92 271.39L1281.15 271.32L1281.39 271.25L1281.62 271.18L1281.86 271.11L1282.09 271.04L1282.33 270.97L1282.56 270.89L1282.79 270.81L1283.03 270.73L1283.26 270.65L1283.50 270.56L1283.73 270.47L1283.97 270.38L1284.20 270.29L1284.44 270.19L1284.67 270.08L1284.90 269.97L1285.14 269.86L1285.37 269.74L1285.61 269.62L1285.84 269.49L1285.96 269.42L1286.08 269.35L1286.31 269.19L1286.54 269.01L1286.78 268.81L1287.01 268.60L1287.25 268.36L1287.48 268.12L1287.72 267.86L1287.95 267.59L1288.18 267.31L1288.42 267.02L1288.65 266.72L1288.89 266.43L1289.12 266.13L1289.36 265.82L1289.55 265.58L1289.59 265.52L1289.82 265.15L1290.06 264.72L1290.29 264.24L1290.53 263.76L1290.76 263.32L1291.00 262.93L1291.23 262.65L1291.47 262.50L1291.57 262.48L1291.70 262.57L1291.93 263.16L1292.17 264.22L1292.40 265.65L1292.64 267.36L1292.87 269.24L1293.11 271.22L1293.34 273.18L1293.57 275.03L1293.70 275.92L1293.81 276.79L1294.04 278.96L1294.28 281.39L1294.51 283.80L1294.75 285.91L1294.98 287.43L1295.21 288.10L1295.24 288.10L1295.45 288.10L1295.68 288.07L1295.92 288.02L1296.15 287.96L1296.39 287.88L1296.62 287.79L1296.86 287.68L1297.09 287.56L1297.32 287.43L1297.56 287.29L1297.79 287.13L1298.03 286.97L1298.26 286.80L1298.50 286.62L1298.73 286.44L1298.96 286.25L1299.20 286.06L1299.43 285.87L1299.67 285.67L1299.90 285.48L1300.14 285.28L1300.37 285.09L1300.60 284.90L1300.84 284.71L1301.07 284.53L1301.31 284.36L1301.43 284.26L1301.54 284.18L1301.78 284.01L1302.01 283.82L1302.24 283.63L1302.48 283.43L1302.71 283.22L1302.95 283.01L1303.18 282.79L1303.42 282.57L1303.65 282.35L1303.89 282.12L1304.12 281.89L1304.35 281.66L1304.59 281.42L1304.82 281.19L1305.06 280.95L1305.29 280.72L1305.53 280.49L1305.76 280.25L1305.99 280.03L1306.23 279.80L1306.46 279.58L1306.70 279.36L1306.93 279.15L1307.17 278.94L1307.40 278.74L1307.63 278.54L1307.87 278.35L1308.10 278.17L1308.34 278.00L1308.57 277.84L1308.81 277.69L1309.04 277.54L1309.17 277.47L1309.27 277.41L1309.51 277.28L1309.74 277.16L1309.98 277.04L1310.21 276.93L1310.45 276.82L1310.68 276.71L1310.92 276.60L1311.15 276.50L1311.38 276.40L1311.62 276.31L1311.85 276.21L1312.09 276.12L1312.32 276.03L1312.56 275.94L1312.79 275.85L1313.02 275.76L1313.26 275.68L1313.49 275.59L1313.73 275.51L1313.96 275.43L1314.20 275.34L1314.43 275.26L1314.66 275.17L1314.90 275.09L1315.13 275.00L1315.37 274.91L1315.60 274.82L1315.84 274.73L1316.07 274.64L1316.31 274.55L1316.54 274.45L1316.77 274.35L1316.91 274.29L1317.01 274.25L1317.24 274.15L1317.48 274.05L1317.71 273.95L1317.95 273.85L1318.18 273.76L1318.41 273.66L1318.65 273.56L1318.88 273.46L1319.12 273.37L1319.35 273.27L1319.59 273.17L1319.82 273.07L1320.05 272.97L1320.29 272.88L1320.52 272.78L1320.76 272.67L1320.99 272.57L1321.23 272.47L1321.46 272.37L1321.69 272.26L1321.93 272.15L1322.16 272.04L1322.40 271.93L1322.63 271.82L1322.87 271.70L1323.10 271.59L1323.34 271.47L1323.57 271.34L1323.80 271.22L1324.04 271.09L1324.27 270.96L1324.51 270.83L1324.64 270.75L1324.74 270.69L1324.98 270.55L1325.21 270.41L1325.44 270.26L1325.68 270.11L1325.91 269.95L1326.15 269.80L1326.38 269.63L1326.62 269.47L1326.85 269.30L1327.08 269.13L1327.32 268.95L1327.55 268.77L1327.79 268.59L1328.02 268.41L1328.26 268.22L1328.49 268.03L1328.73 267.84L1328.96 267.64L1329.19 267.45L1329.43 267.25L1329.66 267.04L1329.90 266.84L1330.13 266.63L1330.37 266.42L1330.60 266.21L1330.83 266.00L1331.07 265.78L1331.30 265.57L1331.54 265.35L1331.77 265.13L1332.01 264.91L1332.24 264.68L1332.38 264.55L1332.47 264.46L1332.71 264.23L1332.94 264.01L1333.18 263.79L1333.41 263.57L1333.65 263.35L1333.88 263.13L1334.11 262.90L1334.35 262.68L1334.58 262.45L1334.82 262.23L1335.05 261.99L1335.29 261.76L1335.52 261.52L1335.76 261.27L1335.99 261.03L1336.22 260.77L1336.46 260.51L1336.69 260.24L1336.93 259.97L1337.16 259.68L1337.40 259.39L1337.63 259.09L1337.86 258.78L1338.10 258.47L1338.33 258.14L1338.57 257.80L1338.80 257.45L1339.04 257.08L1339.27 256.71L1339.50 256.32L1339.74 255.92L1339.97 255.50L1340.12 255.24L1340.21 255.07L1340.44 254.61L1340.68 254.12L1340.91 253.59L1341.15 253.03L1341.38 252.43L1341.61 251.81L1341.85 251.15L1342.08 250.47L1342.32 249.75L1342.55 249.00L1342.79 248.22L1343.02 247.41L1343.25 246.58L1343.49 245.71L1343.72 244.82L1343.96 243.90L1344.19 242.95L1344.43 241.98L1344.66 240.98L1344.89 239.95L1345.13 238.90L1345.36 237.83L1345.60 236.73L1345.83 235.60L1346.07 234.45L1346.30 233.28L1346.53 232.09L1346.77 230.87L1347.00 229.64L1347.24 228.38L1347.47 227.10L1347.71 225.80L1347.86 224.96L1347.94 224.43L1348.18 222.53L1348.41 220.19L1348.64 217.69L1348.88 215.27L1349.11 213.22L1349.35 211.78L1349.58 211.23L1349.59 211.23L1349.82 211.73L1350.05 213.21L1350.28 215.61L1350.52 218.82L1350.75 222.78L1350.99 227.39L1351.22 232.57L1351.46 238.24L1351.69 244.32L1351.92 250.71L1352.16 257.34L1352.39 264.13L1352.63 270.99L1352.86 277.83L1353.10 284.57L1353.33 291.14L1353.57 297.44L1353.80 303.39L1354.03 308.91L1354.27 313.91L1354.50 318.32L1354.74 322.04L1354.97 325.00L1355.21 327.10L1355.44 328.28L1355.59 328.50L1355.67 328.49L1355.91 328.38L1356.14 328.14L1356.38 327.78L1356.61 327.30L1356.85 326.73L1357.08 326.05L1357.31 325.28L1357.55 324.43L1357.78 323.50L1358.02 322.50L1358.25 321.45L1358.49 320.33L1358.72 319.17L1358.95 317.97L1359.19 316.74L1359.42 315.48L1359.66 314.20L1359.89 312.91L1360.13 311.61L1360.36 310.32L1360.60 309.05L1360.83 307.78L1361.06 306.55L1361.30 305.34L1361.53 304.18L1361.77 303.06L1362.00 302.00L1362.24 300.99L1362.47 300.06L1362.70 299.20L1362.94 298.42L1363.17 297.74L1363.33 297.34L1363.41 297.15L1363.64 296.58L1363.88 296.02L1364.11 295.46L1364.34 294.91L1364.58 294.37L1364.81 293.83L1365.05 293.30L1365.28 292.78L1365.52 292.26L1365.75 291.76L1365.98 291.27L1366.22 290.78L1366.45 290.31L1366.69 289.84L1366.92 289.39L1367.16 288.95L1367.39 288.52L1367.63 288.11L1367.86 287.71L1368.09 287.32L1368.33 286.95L1368.56 286.59L1368.80 286.25L1369.03 285.92L1369.27 285.61L1369.50 285.32L1369.73 285.04L1369.97 284.78L1370.20 284.54L1370.44 284.32L1370.67 284.12L1370.91 283.93L1371.07 283.82L1371.14 283.77L1371.37 283.62L1371.61 283.48L1371.84 283.36L1372.08 283.24L1372.31 283.13L1372.55 283.03L1372.78 282.94L1373.02 282.85L1373.25 282.77L1373.48 282.69L1373.72 282.62L1373.95 282.55L1374.19 282.49L1374.42 282.42L1374.66 282.36L1374.89 282.30L1375.12 282.24L1375.36 282.17L1375.59 282.11L1375.83 282.04L1376.06 281.96L1376.30 281.89L1376.53 281.80L1376.76 281.71L1377.00 281.62L1377.23 281.52L1377.47 281.40L1377.70 281.28L1377.94 281.15L1378.17 281.01L1378.40 280.86L1378.64 280.69L1378.80 280.57L1378.87 280.51L1379.11 280.28L1379.34 279.98L1379.58 279.61L1379.81 279.19L1380.05 278.72L1380.28 278.20L1380.51 277.63L1380.75 277.03L1380.98 276.39L1381.22 275.72L1381.45 275.02L1381.69 274.30L1381.92 273.56L1382.15 272.81L1382.39 272.05L1382.62 271.29L1382.86 270.52L1383.09 269.76L1383.24 269.27L1383.33 268.99L1383.56 268.08L1383.79 267.00L1384.03 265.81L1384.26 264.54L1384.50 263.22L1384.73 261.89L1384.97 260.60L1385.20 259.36L1385.44 258.23L1385.67 257.24L1385.90 256.42L1386.14 255.82L1386.37 255.47L1386.54 255.39L1386.61 255.45L1386.84 256.55L1387.08 258.92L1387.31 262.39L1387.54 266.79L1387.78 271.97L1388.01 277.76L1388.25 283.98L1388.48 290.49L1388.72 297.10L1388.95 303.66L1389.18 310.00L1389.42 315.96L1389.65 321.36L1389.89 326.06L1390.12 329.87L1390.36 332.64L1390.59 334.20L1390.74 334.48L1390.82 334.46L1391.06 334.14L1391.29 333.50L1391.53 332.58L1391.76 331.42L1392.00 330.07L1392.23 328.57L1392.47 326.96L1392.70 325.30L1392.93 323.61L1393.17 321.96L1393.40 320.37L1393.64 318.89L1393.87 317.58L1394.11 316.46L1394.28 315.80L1394.34 315.58L1394.57 314.79L1394.81 314.01L1395.04 313.25L1395.28 312.51L1395.51 311.78L1395.75 311.07L1395.98 310.38L1396.21 309.70L1396.45 309.04L1396.68 308.39L1396.92 307.76L1397.15 307.14L1397.39 306.54L1397.62 305.95L1397.86 305.38L1398.09 304.82L1398.32 304.27L1398.56 303.74L1398.79 303.22L1399.03 302.72L1399.26 302.23L1399.50 301.75L1399.73 301.28L1399.96 300.82L1400.20 300.38L1400.43 299.95L1400.67 299.53L1400.90 299.12L1401.14 298.73L1401.37 298.34L1401.60 297.97L1401.84 297.60L1402.01 297.34L1402.07 297.25L1402.31 296.90L1402.54 296.56L1402.78 296.22L1403.01 295.89L1403.24 295.56L1403.48 295.25L1403.71 294.94L1403.95 294.64L1404.18 294.34L1404.42 294.06L1404.65 293.78L1404.89 293.51L1405.12 293.25L1405.35 293.00L1405.59 292.77L1405.82 292.54L1406.06 292.32L1406.29 292.12L1406.53 291.93L1406.76 291.75L1406.99 291.58L1407.23 291.43" fill="none" stroke="#ff0000" stroke-width="3.6" stroke-linejoin="round"/>
<circle cx="845.65" cy="260.04" r="5.3" fill="#ff0000"/><circle cx="852.68" cy="243.72" r="5.3" fill="#ff0000"/><circle cx="860.42" cy="170.31" r="5.3" fill="#ff0000"/><circle cx="868.16" cy="380.05" r="5.3" fill="#ff0000"/><circle cx="875.89" cy="312.99" r="5.3" fill="#ff0000"/><circle cx="883.63" cy="298.37" r="5.3" fill="#ff0000"/><circle cx="891.37" cy="291.43" r="5.3" fill="#ff0000"/><circle cx="899.10" cy="286.77" r="5.3" fill="#ff0000"/><circle cx="906.84" cy="282.71" r="5.3" fill="#ff0000"/><circle cx="914.58" cy="290.84" r="5.3" fill="#ff0000"/><circle cx="922.32" cy="287.59" r="5.3" fill="#ff0000"/><circle cx="930.05" cy="285.67" r="5.3" fill="#ff0000"/><circle cx="937.79" cy="283.89" r="5.3" fill="#ff0000"/><circle cx="945.53" cy="282.20" r="5.3" fill="#ff0000"/><circle cx="953.26" cy="280.35" r="5.3" fill="#ff0000"/><circle cx="961.00" cy="278.13" r="5.3" fill="#ff0000"/><circle cx="968.74" cy="275.77" r="5.3" fill="#ff0000"/><circle cx="976.48" cy="272.60" r="5.3" fill="#ff0000"/><circle cx="984.21" cy="267.57" r="5.3" fill="#ff0000"/><circle cx="991.95" cy="253.76" r="5.3" fill="#ff0000"/><circle cx="999.69" cy="296.60" r="5.3" fill="#ff0000"/><circle cx="1007.42" cy="305.68" r="5.3" fill="#ff0000"/><circle cx="1015.16" cy="291.94" r="5.3" fill="#ff0000"/><circle cx="1022.90" cy="285.81" r="5.3" fill="#ff0000"/><circle cx="1030.63" cy="283.23" r="5.3" fill="#ff0000"/><circle cx="1038.37" cy="280.79" r="5.3" fill="#ff0000"/><circle cx="1046.11" cy="279.32" r="5.3" fill="#ff0000"/><circle cx="1053.85" cy="277.10" r="5.3" fill="#ff0000"/><circle cx="1061.58" cy="275.11" r="5.3" fill="#ff0000"/><circle cx="1069.32" cy="272.23" r="5.3" fill="#ff0000"/><circle cx="1077.06" cy="271.19" r="5.3" fill="#ff0000"/><circle cx="1084.79" cy="283.38" r="5.3" fill="#ff0000"/><circle cx="1092.53" cy="278.73" r="5.3" fill="#ff0000"/><circle cx="1100.27" cy="275.11" r="5.3" fill="#ff0000"/><circle cx="1108.01" cy="271.64" r="5.3" fill="#ff0000"/><circle cx="1115.74" cy="267.20" r="5.3" fill="#ff0000"/><circle cx="1123.48" cy="260.04" r="5.3" fill="#ff0000"/><circle cx="1131.22" cy="239.51" r="5.3" fill="#ff0000"/><circle cx="1138.95" cy="303.98" r="5.3" fill="#ff0000"/><circle cx="1146.69" cy="315.50" r="5.3" fill="#ff0000"/><circle cx="1154.43" cy="294.60" r="5.3" fill="#ff0000"/><circle cx="1162.17" cy="286.26" r="5.3" fill="#ff0000"/><circle cx="1169.90" cy="276.21" r="5.3" fill="#ff0000"/><circle cx="1177.64" cy="286.26" r="5.3" fill="#ff0000"/><circle cx="1185.38" cy="299.77" r="5.3" fill="#ff0000"/><circle cx="1193.11" cy="291.94" r="5.3" fill="#ff0000"/><circle cx="1200.85" cy="287.00" r="5.3" fill="#ff0000"/><circle cx="1208.59" cy="287.73" r="5.3" fill="#ff0000"/><circle cx="1216.32" cy="285.52" r="5.3" fill="#ff0000"/><circle cx="1224.06" cy="284.04" r="5.3" fill="#ff0000"/><circle cx="1231.80" cy="282.57" r="5.3" fill="#ff0000"/><circle cx="1239.54" cy="281.09" r="5.3" fill="#ff0000"/><circle cx="1247.27" cy="279.61" r="5.3" fill="#ff0000"/><circle cx="1255.01" cy="278.13" r="5.3" fill="#ff0000"/><circle cx="1262.75" cy="276.66" r="5.3" fill="#ff0000"/><circle cx="1270.48" cy="274.89" r="5.3" fill="#ff0000"/><circle cx="1278.22" cy="272.23" r="5.3" fill="#ff0000"/><circle cx="1285.96" cy="269.42" r="5.3" fill="#ff0000"/><circle cx="1301.43" cy="284.26" r="5.3" fill="#ff0000"/><circle cx="1309.17" cy="277.47" r="5.3" fill="#ff0000"/><circle cx="1316.91" cy="274.29" r="5.3" fill="#ff0000"/><circle cx="1324.64" cy="270.75" r="5.3" fill="#ff0000"/><circle cx="1332.38" cy="264.55" r="5.3" fill="#ff0000"/><circle cx="1340.12" cy="255.24" r="5.3" fill="#ff0000"/><circle cx="1347.86" cy="224.96" r="5.3" fill="#ff0000"/><circle cx="1355.59" cy="328.50" r="5.3" fill="#ff0000"/><circle cx="1363.33" cy="297.34" r="5.3" fill="#ff0000"/><circle cx="1371.07" cy="283.82" r="5.3" fill="#ff0000"/><circle cx="1378.80" cy="280.57" r="5.3" fill="#ff0000"/><circle cx="1386.54" cy="255.39" r="5.3" fill="#ff0000"/><circle cx="1394.28" cy="315.80" r="5.3" fill="#ff0000"/><circle cx="1402.01" cy="297.34" r="5.3" fill="#ff0000"/>
</g>
<path d="M845.05 58.8H1407.2V501.9H845.05Z" stroke="#000" stroke-width="2" fill="none" stroke-linejoin="miter"/><path d="M845.05 501.9v9M920.01 501.9v9M994.96 501.9v9M1069.92 501.9v9M1144.88 501.9v9M1219.84 501.9v9M1294.79 501.9v9M1369.75 501.9v9M882.53 501.9v4.5M957.49 501.9v4.5M1032.44 501.9v4.5M1107.40 501.9v4.5M1182.36 501.9v4.5M1257.31 501.9v4.5M1332.27 501.9v4.5M1407.23 501.9v4.5M845.05 501.90h-9M845.05 428.05h-9M845.05 354.20h-9M845.05 280.35h-9M845.05 206.50h-9M845.05 132.65h-9M845.05 58.80h-9M845.05 464.97h-4.5M845.05 391.12h-4.5M845.05 317.27h-4.5M845.05 243.42h-4.5M845.05 169.57h-4.5M845.05 95.72h-4.5" stroke="#000" stroke-width="2" fill="none"/>
<text transform="translate(845.0 539.2) scale(1 1.056)" font-family="'Liberation Sans', Arial, Helvetica, sans-serif" font-weight="bold" font-size="30.0" text-anchor="middle">1</text>
<text transform="translate(920.0 539.2) scale(1 1.056)" font-family="'Liberation Sans', Arial, Helvetica, sans-serif" font-weight="bold" font-size="30.0" text-anchor="middle">2</text>
<text transform="translate(995.0 539.2) scale(1 1.056)" font-family="'Liberation Sans', Arial, Helvetica, sans-serif" font-weight="bold" font-size="30.0" text-anchor="middle">3</text>
<text transform="translate(1069.9 539.2) scale(1 1.056)" font-family="'Liberation Sans', Arial, Helvetica, sans-serif" font-weight="bold" font-size="30.0" text-anchor="middle">4</text>
<text transform="translate(1144.9 539.2) scale(1 1.056)" font-family="'Liberation Sans', Arial, Helvetica, sans-serif" font-weight="bold" font-size="30.0" text-anchor="middle">5</text>
<text transform="translate(1219.8 539.2) scale(1 1.056)" font-family="'Liberation Sans', Arial, Helvetica, sans-serif" font-weight="bold" font-size="30.0" text-anchor="middle">6</text>
<text transform="translate(1294.8 539.2) scale(1 1.056)" font-family="'Liberation Sans', Arial, Helvetica, sans-serif" font-weight="bold" font-size="30.0" text-anchor="middle">7</text>
<text transform="translate(1369.8 539.2) scale(1 1.056)" font-family="'Liberation Sans', Arial, Helvetica, sans-serif" font-weight="bold" font-size="30.0" text-anchor="middle">8</text>
<text transform="translate(830.4 511.0) scale(1 1.056)" font-family="'Liberation Sans', Arial, Helvetica, sans-serif" font-weight="bold" font-size="30.0" text-anchor="end">-30</text>
<text transform="translate(830.4 437.1) scale(1 1.056)" font-family="'Liberation Sans', Arial, Helvetica, sans-serif" font-weight="bold" font-size="30.0" text-anchor="end">-20</text>
<text transform="translate(830.4 363.3) scale(1 1.056)" font-family="'Liberation Sans', Arial, Helvetica, sans-serif" font-weight="bold" font-size="30.0" text-anchor="end">-10</text>
<text transform="translate(830.4 289.4) scale(1 1.056)" font-family="'Liberation Sans', Arial, Helvetica, sans-serif" font-weight="bold" font-size="30.0" text-anchor="end">0</text>
<text transform="translate(830.4 215.6) scale(1 1.056)" font-family="'Liberation Sans', Arial, Helvetica, sans-serif" font-weight="bold" font-size="30.0" text-anchor="end">10</text>
<text transform="translate(830.4 141.7) scale(1 1.056)" font-family="'Liberation Sans', Arial, Helvetica, sans-serif" font-weight="bold" font-size="30.0" text-anchor="end">20</text>
<text transform="translate(830.4 67.9) scale(1 1.056)" font-family="'Liberation Sans', Arial, Helvetica, sans-serif" font-weight="bold" font-size="30.0" text-anchor="end">30</text>
<text x="1126.1" y="575.4" font-family="'Liberation Sans', Arial, Helvetica, sans-serif" font-weight="bold" font-size="38.6" text-anchor="middle">Frequency (THz)</text>
<text transform="translate(774.3 280.7) rotate(-90) scale(1 1.04)" font-family="'Liberation Sans', Arial, Helvetica, sans-serif" font-weight="bold" font-size="37.5" text-anchor="middle">Normalized Impedance (<tspan font-style="italic">Z</tspan>)</text>
<text x="702" y="25.7" font-family="'Liberation Serif', 'Times New Roman', Times, serif" font-weight="bold" font-size="34">(b)</text>
<path d="M1140.1 424.8H1196" stroke="#000" stroke-width="3.6" fill="none" stroke-linecap="round"/>
<path d="M1162.85 419.85h9.9v9.9h-9.9z" fill="#000"/>
<path d="M1140.1 456.2H1196" stroke="#ff0000" stroke-width="3.6" fill="none" stroke-linecap="round"/>
<circle cx="1167.80" cy="456.20" r="5.3" fill="#ff0000"/>
<text x="1204" y="432.9" font-family="'Liberation Sans', Arial, Helvetica, sans-serif" font-weight="bold" font-size="25.5">Re(<tspan font-style="italic">Z</tspan>)</text>
<text x="1204" y="464.3" font-family="'Liberation Sans', Arial, Helvetica, sans-serif" font-weight="bold" font-size="25.5">Im(<tspan font-style="italic">Z</tspan>)</text>
</g>
</svg>
</body>
</html>
